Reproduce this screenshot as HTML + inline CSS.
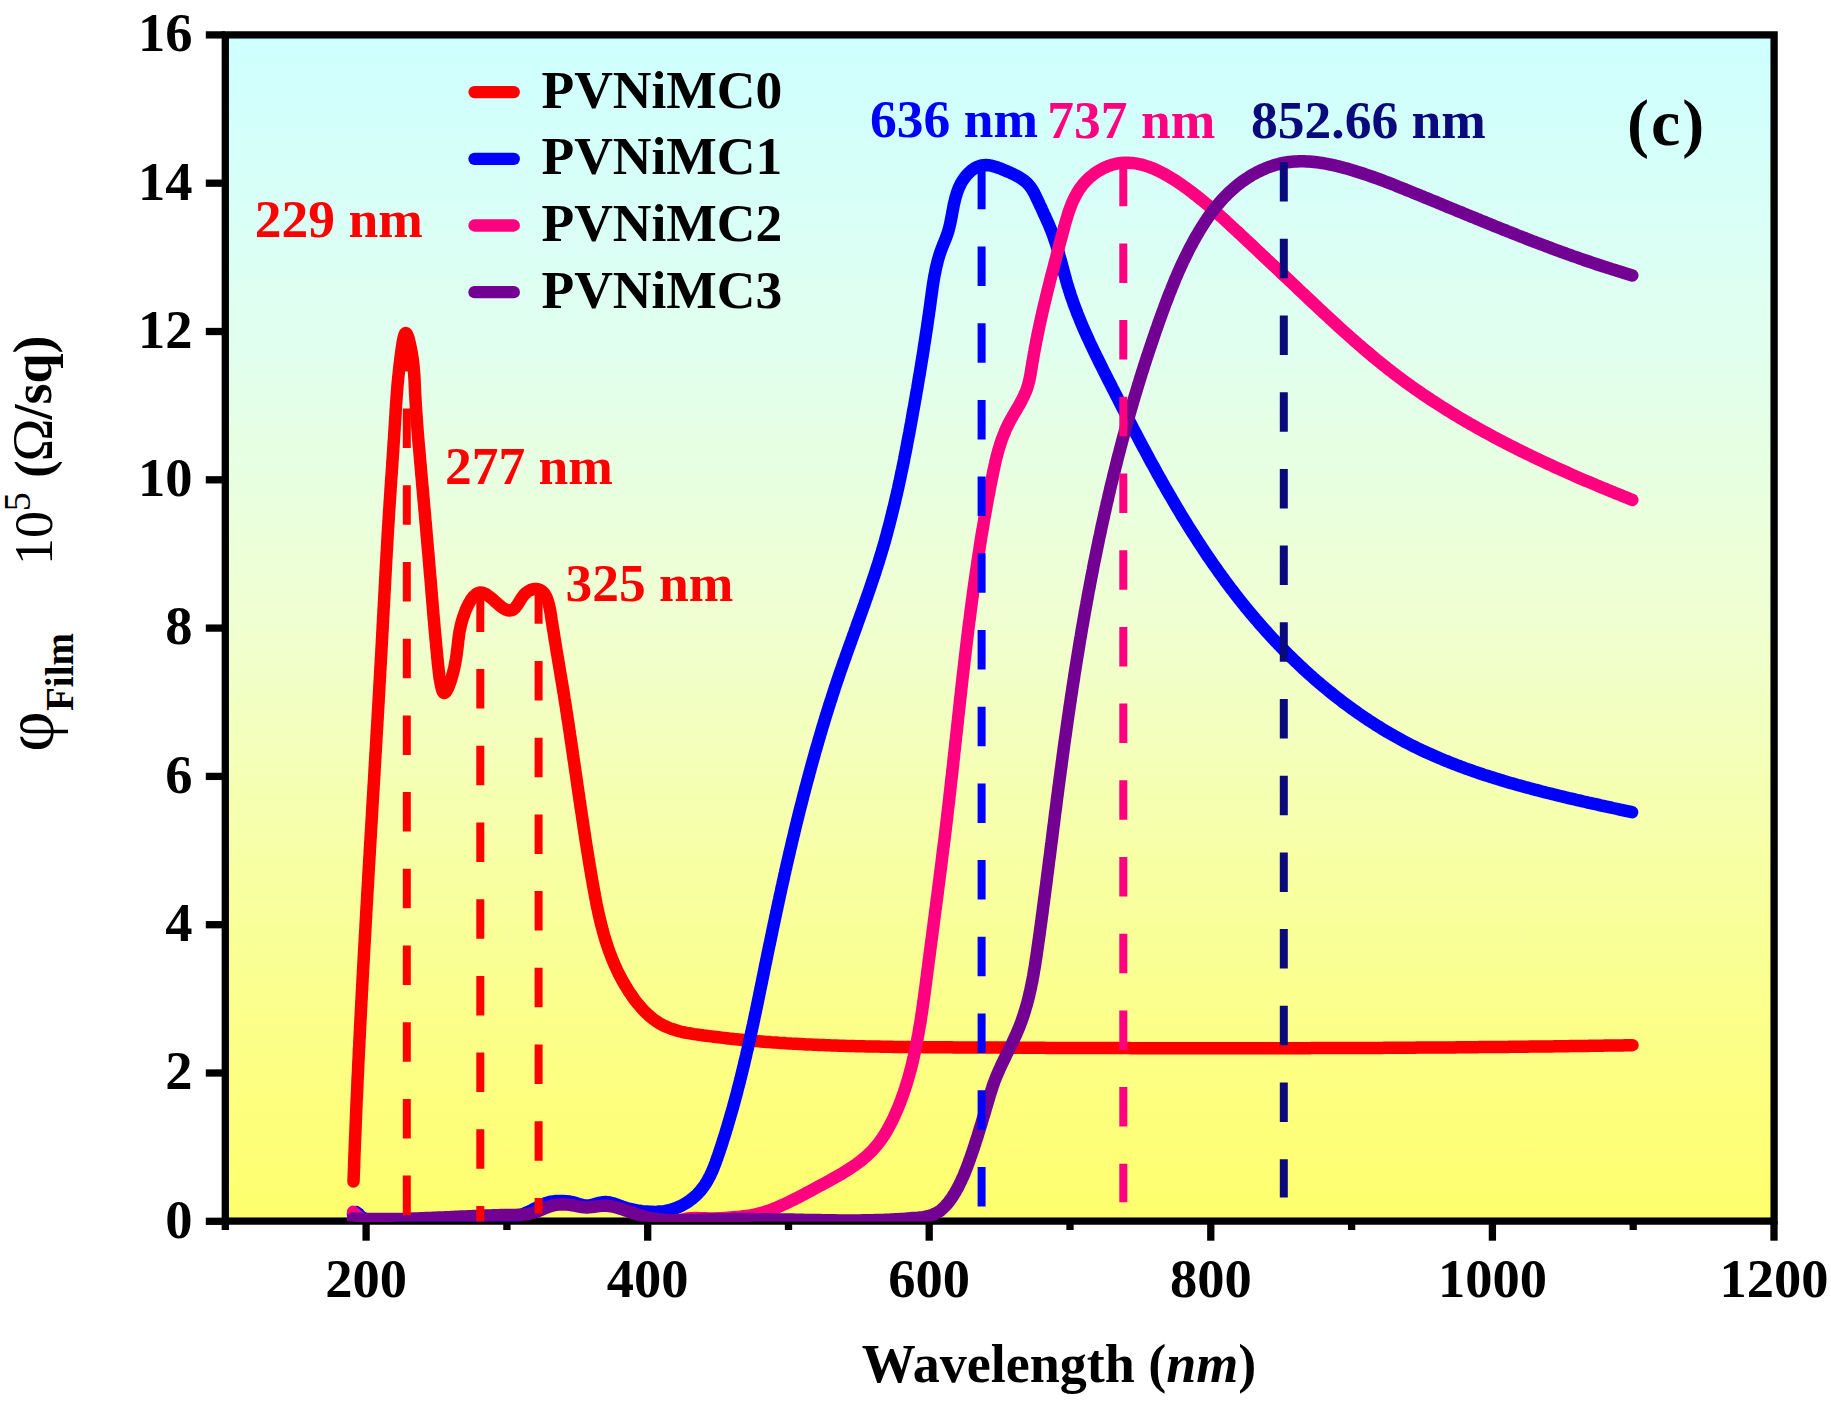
<!DOCTYPE html><html><head><meta charset="utf-8"><title>PVNiMC plot</title>
<style>html,body{margin:0;padding:0;background:#fff;}svg{display:block;}text{font-family:'Liberation Serif','Times New Roman',serif;font-weight:bold;}</style></head><body>
<svg width="1831" height="1401" viewBox="0 0 1831 1401">
<defs><linearGradient id="bg" x1="0" y1="0" x2="0" y2="1"><stop offset="0" stop-color="rgb(206,255,255)"/><stop offset="0.25" stop-color="rgb(224,255,240)"/><stop offset="0.5" stop-color="rgb(240,255,208)"/><stop offset="0.75" stop-color="rgb(249,255,153)"/><stop offset="1" stop-color="rgb(255,255,108)"/></linearGradient><clipPath id="pc"><rect x="225.3" y="34.9" width="1548.8" height="1186.6"/></clipPath></defs>
<rect x="0" y="0" width="1831" height="1401" fill="#fff"/>
<rect x="225" y="35" width="1549" height="1186" fill="url(#bg)"/>
<rect x="225.3" y="34.9" width="1548.8" height="1186.2" fill="none" stroke="#000" stroke-width="7.3"/><line x1="205.8" y1="1221.3" x2="225" y2="1221.3" stroke="#000" stroke-width="7.3"/><line x1="205.8" y1="1073.0" x2="225" y2="1073.0" stroke="#000" stroke-width="7.3"/><line x1="205.8" y1="924.7" x2="225" y2="924.7" stroke="#000" stroke-width="7.3"/><line x1="205.8" y1="776.4" x2="225" y2="776.4" stroke="#000" stroke-width="7.3"/><line x1="205.8" y1="628.1" x2="225" y2="628.1" stroke="#000" stroke-width="7.3"/><line x1="205.8" y1="479.8" x2="225" y2="479.8" stroke="#000" stroke-width="7.3"/><line x1="205.8" y1="331.5" x2="225" y2="331.5" stroke="#000" stroke-width="7.3"/><line x1="205.8" y1="183.2" x2="225" y2="183.2" stroke="#000" stroke-width="7.3"/><line x1="205.8" y1="34.9" x2="225" y2="34.9" stroke="#000" stroke-width="7.3"/><line x1="225.3" y1="1221" x2="225.3" y2="1230.0" stroke="#000" stroke-width="7.3"/><line x1="366.1" y1="1221" x2="366.1" y2="1240.7" stroke="#000" stroke-width="7.3"/><line x1="506.9" y1="1221" x2="506.9" y2="1230.0" stroke="#000" stroke-width="7.3"/><line x1="647.7" y1="1221" x2="647.7" y2="1240.7" stroke="#000" stroke-width="7.3"/><line x1="788.5" y1="1221" x2="788.5" y2="1230.0" stroke="#000" stroke-width="7.3"/><line x1="929.2" y1="1221" x2="929.2" y2="1240.7" stroke="#000" stroke-width="7.3"/><line x1="1070.0" y1="1221" x2="1070.0" y2="1230.0" stroke="#000" stroke-width="7.3"/><line x1="1210.8" y1="1221" x2="1210.8" y2="1240.7" stroke="#000" stroke-width="7.3"/><line x1="1351.6" y1="1221" x2="1351.6" y2="1230.0" stroke="#000" stroke-width="7.3"/><line x1="1492.4" y1="1221" x2="1492.4" y2="1240.7" stroke="#000" stroke-width="7.3"/><line x1="1633.2" y1="1221" x2="1633.2" y2="1230.0" stroke="#000" stroke-width="7.3"/><line x1="1774.0" y1="1221" x2="1774.0" y2="1240.7" stroke="#000" stroke-width="7.3"/>
<g clip-path="url(#pc)">
<path d="M353.5,1181.5 L353.6,1179.0 L353.7,1176.5 L353.8,1174.0 L353.9,1171.5 L354.0,1169.0 L354.1,1166.5 L354.1,1164.0 L354.2,1161.5 L354.3,1159.0 L354.4,1156.5 L354.5,1154.0 L354.6,1151.5 L354.7,1149.0 L354.8,1146.5 L354.9,1144.0 L355.0,1141.5 L355.1,1139.0 L355.2,1136.5 L355.3,1134.0 L355.4,1131.5 L355.5,1129.0 L355.6,1126.5 L355.7,1124.0 L355.8,1121.5 L355.9,1119.0 L356.0,1116.5 L356.1,1114.0 L356.2,1111.5 L356.3,1109.0 L356.4,1106.5 L356.5,1104.0 L356.6,1101.5 L356.7,1099.0 L356.9,1096.5 L357.0,1094.0 L357.1,1091.5 L357.2,1089.0 L357.3,1086.5 L357.4,1084.0 L357.5,1081.5 L357.6,1079.0 L357.7,1076.5 L357.9,1074.0 L358.0,1071.5 L358.1,1069.0 L358.2,1066.5 L358.3,1064.0 L358.4,1061.5 L358.6,1059.0 L358.7,1056.5 L358.8,1054.0 L358.9,1051.5 L359.0,1049.0 L359.2,1046.5 L359.3,1044.0 L359.4,1041.5 L359.5,1039.0 L359.7,1036.5 L359.8,1034.0 L359.9,1031.5 L360.0,1029.0 L360.1,1026.5 L360.3,1024.0 L360.4,1021.5 L360.5,1019.0 L360.7,1016.5 L360.8,1014.0 L360.9,1011.5 L361.0,1009.0 L361.2,1006.5 L361.3,1004.0 L361.4,1001.5 L361.6,999.0 L361.7,996.5 L361.8,994.0 L361.9,991.5 L362.1,989.0 L362.2,986.5 L362.3,984.0 L362.5,981.5 L362.6,979.0 L362.7,976.5 L362.9,973.9 L363.0,971.4 L363.1,968.9 L363.3,966.4 L363.4,963.9 L363.6,961.4 L363.7,958.9 L363.8,956.4 L364.0,953.9 L364.1,951.4 L364.2,948.9 L364.4,946.4 L364.5,943.9 L364.7,941.4 L364.8,938.9 L364.9,936.4 L365.1,933.9 L365.2,931.4 L365.4,928.9 L365.5,926.4 L365.6,923.9 L365.8,921.4 L365.9,918.9 L366.1,916.4 L366.2,913.9 L366.3,911.4 L366.5,908.9 L366.6,906.4 L366.8,903.9 L366.9,901.4 L367.1,898.9 L367.2,896.4 L367.3,893.9 L367.5,891.4 L367.6,888.9 L367.8,886.4 L367.9,883.9 L368.1,881.4 L368.2,878.8 L368.3,876.3 L368.5,873.8 L368.6,871.3 L368.8,868.8 L368.9,866.3 L369.1,863.8 L369.2,861.3 L369.4,858.8 L369.5,856.3 L369.7,853.8 L369.8,851.3 L369.9,848.8 L370.1,846.3 L370.2,843.8 L370.4,841.3 L370.5,838.8 L370.7,836.3 L370.8,833.8 L371.0,831.3 L371.1,828.8 L371.3,826.3 L371.4,823.8 L371.6,821.3 L371.7,818.8 L371.9,816.3 L372.0,813.8 L372.1,811.3 L372.3,808.8 L372.4,806.3 L372.6,803.8 L372.7,801.3 L372.9,798.8 L373.0,796.3 L373.2,793.8 L373.3,791.3 L373.5,788.8 L373.6,786.3 L373.8,783.8 L373.9,781.3 L374.1,778.8 L374.2,776.3 L374.4,773.8 L374.5,771.3 L374.6,768.8 L374.8,766.3 L374.9,763.8 L375.1,761.3 L375.2,758.8 L375.4,756.3 L375.5,753.8 L375.7,751.3 L375.8,748.8 L376.0,746.3 L376.1,743.8 L376.3,741.3 L376.4,738.8 L376.5,736.3 L376.7,733.8 L376.8,731.3 L377.0,728.9 L377.1,726.4 L377.3,723.9 L377.4,721.4 L377.6,718.9 L377.7,716.4 L377.8,713.9 L378.0,711.4 L378.1,708.9 L378.3,706.4 L378.4,703.9 L378.6,701.4 L378.7,698.9 L378.8,696.4 L379.0,693.9 L379.1,691.4 L379.3,688.9 L379.4,686.4 L379.5,683.9 L379.7,681.4 L379.8,678.9 L380.0,676.4 L380.1,674.0 L380.2,671.5 L380.4,669.0 L380.5,666.5 L380.7,664.0 L380.8,661.5 L380.9,659.0 L381.1,656.5 L381.2,654.0 L381.4,651.5 L381.5,649.0 L381.6,646.5 L381.8,644.0 L381.9,641.5 L382.0,639.1 L382.2,636.6 L382.3,634.1 L382.4,631.6 L382.6,629.1 L382.7,626.6 L382.8,624.1 L383.0,621.6 L383.1,619.1 L383.2,616.6 L383.4,614.1 L383.5,611.7 L383.6,609.2 L383.8,606.7 L383.9,604.2 L384.0,601.7 L384.2,599.2 L384.3,596.7 L384.4,594.2 L384.6,591.7 L384.7,589.2 L384.8,586.7 L385.0,584.2 L385.1,581.7 L385.2,579.2 L385.4,576.8 L385.5,574.3 L385.6,571.8 L385.8,569.3 L385.9,566.8 L386.0,564.2 L386.2,561.7 L386.3,559.2 L386.5,556.7 L386.6,554.2 L386.7,551.7 L386.9,549.2 L387.0,546.7 L387.2,544.2 L387.3,541.7 L387.5,539.1 L387.6,536.6 L387.7,534.1 L387.9,531.6 L388.0,529.1 L388.2,526.5 L388.4,524.0 L388.5,521.5 L388.7,518.9 L388.8,516.4 L389.0,513.9 L389.1,511.3 L389.3,508.8 L389.5,506.2 L389.6,503.7 L389.8,501.1 L390.0,498.6 L390.1,496.1 L390.3,493.5 L390.5,491.0 L390.6,488.4 L390.8,485.9 L391.0,483.3 L391.1,480.8 L391.3,478.3 L391.5,475.7 L391.7,473.2 L391.8,470.7 L392.0,468.2 L392.2,465.7 L392.3,463.1 L392.5,460.6 L392.7,458.1 L392.8,455.7 L393.0,453.2 L393.2,450.7 L393.3,448.2 L393.5,445.7 L393.6,443.3 L393.8,440.8 L394.0,438.4 L394.1,436.0 L394.3,433.5 L394.4,431.1 L394.6,428.7 L394.7,426.3 L394.9,424.0 L395.0,421.6 L395.2,419.2 L395.3,416.9 L395.5,414.5 L395.6,412.2 L395.7,409.8 L395.9,407.5 L396.0,405.1 L396.2,402.7 L396.4,400.3 L396.5,398.0 L396.7,395.5 L396.9,393.1 L397.1,390.6 L397.3,388.2 L397.5,385.6 L397.7,383.1 L398.0,380.5 L398.2,377.9 L398.5,375.2 L398.8,372.5 L399.1,369.8 L399.4,367.0 L399.7,364.2 L400.1,361.3 L400.4,358.3 L400.8,355.3 L401.2,352.2 L401.7,349.1 L402.1,345.9 L402.6,342.8 L403.1,339.9 L403.7,337.4 L404.3,335.3 L404.9,333.8 L405.5,333.0 L406.2,333.1 L406.9,334.1 L407.7,335.8 L408.5,338.1 L409.2,340.8 L409.9,343.8 L410.6,347.0 L411.2,350.1 L411.8,353.1 L412.2,356.1 L412.7,358.9 L413.0,361.6 L413.3,364.2 L413.6,366.7 L413.8,369.2 L414.0,371.7 L414.2,374.0 L414.3,376.4 L414.5,378.7 L414.6,381.0 L414.7,383.4 L414.8,385.7 L414.9,388.0 L415.0,390.4 L415.1,392.8 L415.2,395.3 L415.4,397.7 L415.5,400.2 L415.7,402.7 L415.8,405.2 L416.0,407.7 L416.1,410.3 L416.3,412.8 L416.5,415.3 L416.7,417.9 L416.9,420.4 L417.0,423.0 L417.2,425.5 L417.4,428.0 L417.6,430.5 L417.8,433.0 L418.0,435.5 L418.2,438.0 L418.4,440.5 L418.6,442.9 L418.8,445.4 L419.1,447.9 L419.3,450.4 L419.5,452.8 L419.7,455.3 L419.9,457.8 L420.1,460.2 L420.3,462.7 L420.6,465.2 L420.8,467.7 L421.0,470.2 L421.2,472.7 L421.4,475.2 L421.7,477.7 L421.9,480.2 L422.1,482.7 L422.3,485.2 L422.5,487.7 L422.8,490.2 L423.0,492.7 L423.2,495.2 L423.4,497.7 L423.6,500.2 L423.9,502.7 L424.1,505.2 L424.3,507.7 L424.5,510.2 L424.8,512.8 L425.0,515.3 L425.2,517.8 L425.4,520.3 L425.6,522.8 L425.9,525.3 L426.1,527.8 L426.3,530.3 L426.5,532.8 L426.7,535.4 L427.0,537.9 L427.2,540.4 L427.4,542.9 L427.6,545.4 L427.8,547.9 L428.0,550.4 L428.3,552.9 L428.5,555.4 L428.7,557.9 L428.9,560.3 L429.1,562.8 L429.3,565.3 L429.5,567.8 L429.7,570.3 L429.9,572.7 L430.1,575.2 L430.4,577.7 L430.6,580.1 L430.8,582.6 L431.0,585.1 L431.2,587.5 L431.4,590.0 L431.6,592.5 L431.8,594.9 L432.0,597.4 L432.2,599.8 L432.4,602.3 L432.6,604.8 L432.8,607.2 L433.0,609.7 L433.2,612.2 L433.4,614.6 L433.6,617.1 L433.8,619.6 L434.1,622.1 L434.3,624.5 L434.5,627.0 L434.7,629.5 L434.9,632.0 L435.2,634.5 L435.4,637.1 L435.6,639.6 L435.9,642.1 L436.1,644.7 L436.3,647.2 L436.6,649.8 L436.8,652.3 L437.1,654.9 L437.3,657.5 L437.6,660.1 L437.8,662.7 L438.1,665.3 L438.4,667.9 L438.7,670.5 L439.0,673.2 L439.3,675.8 L439.7,678.5 L440.2,681.2 L440.7,684.0 L441.3,686.7 L441.9,689.3 L442.7,691.4 L443.5,692.7 L444.5,693.0 L445.6,692.3 L446.7,690.7 L447.8,688.6 L448.8,686.1 L449.9,683.3 L450.9,680.4 L451.8,677.3 L452.7,674.2 L453.5,671.1 L454.2,668.1 L454.8,665.2 L455.3,662.5 L455.8,659.8 L456.2,657.3 L456.6,654.8 L456.9,652.4 L457.2,650.0 L457.5,647.7 L457.7,645.5 L458.0,643.3 L458.2,641.1 L458.5,638.9 L458.8,636.7 L459.1,634.5 L459.4,632.3 L459.8,630.1 L460.3,627.8 L460.8,625.5 L461.4,623.1 L462.1,620.6 L462.9,618.0 L463.8,615.4 L464.8,612.7 L465.8,609.9 L467.0,607.2 L468.3,604.5 L469.7,602.0 L471.1,599.6 L472.7,597.5 L474.3,595.7 L475.9,594.2 L477.7,593.2 L479.5,592.6 L481.3,592.5 L483.2,592.9 L485.1,593.7 L487.1,594.9 L489.1,596.4 L491.2,598.0 L493.3,599.8 L495.3,601.7 L497.5,603.6 L499.6,605.4 L501.7,607.1 L503.8,608.5 L505.9,609.6 L508.0,610.3 L510.0,610.5 L511.9,610.1 L513.8,609.1 L515.6,607.3 L517.3,605.0 L519.0,602.3 L520.7,599.5 L522.5,596.8 L524.4,594.4 L526.5,592.5 L528.6,591.0 L530.8,589.9 L533.0,589.3 L535.1,589.0 L537.2,589.1 L539.1,589.6 L540.9,590.4 L542.5,591.6 L543.9,593.0 L545.1,594.8 L546.2,596.7 L547.1,598.9 L547.9,601.3 L548.7,603.8 L549.3,606.4 L549.9,609.2 L550.4,612.0 L550.9,614.8 L551.3,617.7 L551.7,620.5 L552.2,623.3 L552.6,626.1 L553.0,628.8 L553.5,631.5 L553.9,634.2 L554.3,636.8 L554.7,639.5 L555.2,642.1 L555.6,644.6 L556.0,647.2 L556.4,649.7 L556.8,652.2 L557.3,654.7 L557.7,657.2 L558.1,659.7 L558.5,662.1 L558.9,664.6 L559.3,667.0 L559.7,669.4 L560.1,671.8 L560.5,674.2 L560.9,676.6 L561.3,679.0 L561.7,681.4 L562.1,683.8 L562.5,686.1 L562.9,688.5 L563.3,690.9 L563.7,693.3 L564.1,695.7 L564.4,698.1 L564.8,700.5 L565.2,702.9 L565.6,705.3 L566.0,707.8 L566.3,710.2 L566.7,712.6 L567.1,715.0 L567.4,717.5 L567.8,719.9 L568.2,722.3 L568.6,724.8 L568.9,727.2 L569.3,729.7 L569.7,732.1 L570.0,734.6 L570.4,737.0 L570.7,739.5 L571.1,741.9 L571.5,744.4 L571.8,746.9 L572.2,749.3 L572.6,751.8 L572.9,754.3 L573.3,756.7 L573.6,759.2 L574.0,761.7 L574.4,764.2 L574.7,766.7 L575.1,769.1 L575.4,771.6 L575.8,774.1 L576.2,776.6 L576.5,779.1 L576.9,781.6 L577.2,784.1 L577.6,786.6 L578.0,789.1 L578.3,791.6 L578.7,794.1 L579.1,796.6 L579.4,799.1 L579.8,801.6 L580.2,804.1 L580.5,806.6 L580.9,809.1 L581.3,811.6 L581.7,814.1 L582.0,816.6 L582.4,819.1 L582.8,821.6 L583.2,824.1 L583.5,826.6 L583.9,829.1 L584.3,831.6 L584.7,834.1 L585.1,836.5 L585.4,839.0 L585.8,841.5 L586.2,844.0 L586.6,846.5 L587.0,849.0 L587.4,851.5 L587.8,854.0 L588.2,856.5 L588.6,859.0 L589.0,861.5 L589.4,864.0 L589.8,866.4 L590.3,868.9 L590.7,871.4 L591.1,873.9 L591.5,876.4 L591.9,878.8 L592.4,881.3 L592.8,883.8 L593.2,886.2 L593.7,888.7 L594.1,891.2 L594.6,893.6 L595.0,896.1 L595.5,898.5 L596.0,901.0 L596.4,903.4 L596.9,905.9 L597.4,908.3 L598.0,910.7 L598.5,913.2 L599.0,915.6 L599.6,918.0 L600.2,920.4 L600.7,922.8 L601.3,925.2 L602.0,927.6 L602.6,930.0 L603.3,932.4 L603.9,934.8 L604.6,937.1 L605.3,939.5 L606.1,941.9 L606.8,944.2 L607.6,946.6 L608.4,948.9 L609.2,951.2 L610.1,953.6 L611.0,955.9 L611.9,958.2 L612.8,960.5 L613.8,962.8 L614.7,965.1 L615.8,967.3 L616.8,969.6 L617.9,971.9 L619.0,974.1 L620.2,976.4 L621.3,978.6 L622.5,980.8 L623.8,983.0 L625.1,985.2 L626.4,987.4 L627.8,989.6 L629.1,991.8 L630.6,993.9 L632.1,996.0 L633.6,998.2 L635.1,1000.3 L636.7,1002.3 L638.3,1004.3 L640.0,1006.3 L641.7,1008.3 L643.5,1010.2 L645.2,1012.0 L647.1,1013.8 L648.9,1015.5 L650.9,1017.1 L652.8,1018.7 L654.8,1020.2 L656.8,1021.6 L658.9,1022.9 L661.0,1024.2 L663.2,1025.3 L665.4,1026.4 L667.6,1027.3 L669.9,1028.2 L672.2,1029.1 L674.5,1029.8 L676.8,1030.5 L679.2,1031.2 L681.6,1031.8 L684.0,1032.3 L686.5,1032.8 L688.9,1033.2 L691.4,1033.7 L693.9,1034.1 L696.4,1034.4 L698.9,1034.8 L701.3,1035.1 L703.8,1035.5 L706.3,1035.8 L708.8,1036.1 L711.3,1036.4 L713.8,1036.7 L716.3,1037.0 L718.8,1037.3 L721.3,1037.6 L723.8,1037.9 L726.3,1038.2 L728.8,1038.5 L731.3,1038.7 L733.8,1039.0 L736.3,1039.2 L738.8,1039.5 L741.3,1039.7 L743.8,1040.0 L746.3,1040.2 L748.8,1040.4 L751.3,1040.7 L753.8,1040.9 L756.3,1041.1 L758.8,1041.3 L761.3,1041.5 L763.8,1041.7 L766.3,1041.9 L768.8,1042.1 L771.3,1042.3 L773.8,1042.4 L776.3,1042.6 L778.8,1042.8 L781.3,1042.9 L783.8,1043.1 L786.3,1043.3 L788.8,1043.4 L791.3,1043.6 L793.8,1043.7 L796.3,1043.8 L798.8,1044.0 L801.3,1044.1 L803.8,1044.2 L806.3,1044.4 L808.8,1044.5 L811.3,1044.6 L813.8,1044.7 L816.3,1044.8 L818.8,1044.9 L821.3,1045.0 L823.8,1045.1 L826.3,1045.2 L828.8,1045.3 L831.3,1045.4 L833.8,1045.5 L836.3,1045.6 L838.8,1045.7 L841.3,1045.8 L843.8,1045.8 L846.3,1045.9 L848.8,1046.0 L851.3,1046.0 L853.8,1046.1 L856.3,1046.2 L858.8,1046.2 L861.3,1046.3 L863.8,1046.3 L866.3,1046.4 L868.8,1046.4 L871.3,1046.5 L873.8,1046.5 L876.3,1046.6 L878.8,1046.6 L881.3,1046.7 L883.8,1046.7 L886.3,1046.7 L888.8,1046.8 L891.3,1046.8 L893.9,1046.9 L896.4,1046.9 L898.9,1046.9 L901.4,1046.9 L903.9,1047.0 L906.4,1047.0 L908.9,1047.0 L911.4,1047.0 L913.9,1047.1 L916.4,1047.1 L918.9,1047.1 L921.4,1047.1 L923.9,1047.2 L926.4,1047.2 L928.9,1047.2 L931.4,1047.2 L933.9,1047.2 L936.4,1047.2 L938.9,1047.3 L941.4,1047.3 L943.9,1047.3 L946.4,1047.3 L948.9,1047.3 L951.4,1047.3 L953.9,1047.4 L956.4,1047.4 L958.9,1047.4 L961.4,1047.4 L964.0,1047.4 L966.5,1047.4 L969.0,1047.4 L971.5,1047.5 L974.0,1047.5 L976.5,1047.5 L979.0,1047.5 L981.5,1047.5 L984.0,1047.5 L986.5,1047.5 L989.0,1047.6 L991.5,1047.6 L994.0,1047.6 L996.5,1047.6 L999.0,1047.6 L1001.5,1047.6 L1004.0,1047.6 L1006.5,1047.7 L1009.0,1047.7 L1011.5,1047.7 L1014.0,1047.7 L1016.5,1047.7 L1019.0,1047.7 L1021.5,1047.7 L1024.0,1047.7 L1026.5,1047.8 L1029.1,1047.8 L1031.6,1047.8 L1034.1,1047.8 L1036.6,1047.8 L1039.1,1047.8 L1041.6,1047.8 L1044.1,1047.8 L1046.6,1047.9 L1049.1,1047.9 L1051.6,1047.9 L1054.1,1047.9 L1056.6,1047.9 L1059.1,1047.9 L1061.6,1047.9 L1064.1,1047.9 L1066.6,1047.9 L1069.1,1047.9 L1071.6,1048.0 L1074.1,1048.0 L1076.6,1048.0 L1079.1,1048.0 L1081.6,1048.0 L1084.1,1048.0 L1086.6,1048.0 L1089.1,1048.0 L1091.6,1048.0 L1094.2,1048.0 L1096.7,1048.1 L1099.2,1048.1 L1101.7,1048.1 L1104.2,1048.1 L1106.7,1048.1 L1109.2,1048.1 L1111.7,1048.1 L1114.2,1048.1 L1116.7,1048.1 L1119.2,1048.1 L1121.7,1048.1 L1124.2,1048.1 L1126.7,1048.1 L1129.2,1048.1 L1131.7,1048.2 L1134.2,1048.2 L1136.7,1048.2 L1139.2,1048.2 L1141.7,1048.2 L1144.2,1048.2 L1146.7,1048.2 L1149.2,1048.2 L1151.7,1048.2 L1154.2,1048.2 L1156.8,1048.2 L1159.3,1048.2 L1161.8,1048.2 L1164.3,1048.2 L1166.8,1048.2 L1169.3,1048.2 L1171.8,1048.2 L1174.3,1048.2 L1176.8,1048.2 L1179.3,1048.2 L1181.8,1048.2 L1184.3,1048.3 L1186.8,1048.3 L1189.3,1048.3 L1191.8,1048.3 L1194.3,1048.3 L1196.8,1048.3 L1199.3,1048.3 L1201.8,1048.3 L1204.3,1048.3 L1206.8,1048.3 L1209.3,1048.3 L1211.8,1048.3 L1214.3,1048.3 L1216.8,1048.3 L1219.4,1048.3 L1221.9,1048.3 L1224.4,1048.3 L1226.9,1048.3 L1229.4,1048.3 L1231.9,1048.3 L1234.4,1048.3 L1236.9,1048.3 L1239.4,1048.3 L1241.9,1048.3 L1244.4,1048.3 L1246.9,1048.3 L1249.4,1048.3 L1251.9,1048.3 L1254.4,1048.3 L1256.9,1048.3 L1259.4,1048.3 L1261.9,1048.3 L1264.4,1048.2 L1266.9,1048.2 L1269.4,1048.2 L1271.9,1048.2 L1274.4,1048.2 L1276.9,1048.2 L1279.4,1048.2 L1282.0,1048.2 L1284.5,1048.2 L1287.0,1048.2 L1289.5,1048.2 L1292.0,1048.2 L1294.5,1048.2 L1297.0,1048.2 L1299.5,1048.2 L1302.0,1048.2 L1304.5,1048.2 L1307.0,1048.2 L1309.5,1048.2 L1312.0,1048.1 L1314.5,1048.1 L1317.0,1048.1 L1319.5,1048.1 L1322.0,1048.1 L1324.5,1048.1 L1327.0,1048.1 L1329.5,1048.1 L1332.0,1048.1 L1334.5,1048.1 L1337.0,1048.1 L1339.5,1048.1 L1342.1,1048.0 L1344.6,1048.0 L1347.1,1048.0 L1349.6,1048.0 L1352.1,1048.0 L1354.6,1048.0 L1357.1,1048.0 L1359.6,1048.0 L1362.1,1048.0 L1364.6,1048.0 L1367.1,1047.9 L1369.6,1047.9 L1372.1,1047.9 L1374.6,1047.9 L1377.1,1047.9 L1379.6,1047.9 L1382.1,1047.9 L1384.6,1047.8 L1387.1,1047.8 L1389.6,1047.8 L1392.1,1047.8 L1394.6,1047.8 L1397.1,1047.8 L1399.6,1047.8 L1402.1,1047.7 L1404.7,1047.7 L1407.2,1047.7 L1409.7,1047.7 L1412.2,1047.7 L1414.7,1047.7 L1417.2,1047.6 L1419.7,1047.6 L1422.2,1047.6 L1424.7,1047.6 L1427.2,1047.6 L1429.7,1047.6 L1432.2,1047.5 L1434.7,1047.5 L1437.2,1047.5 L1439.7,1047.5 L1442.2,1047.5 L1444.7,1047.4 L1447.2,1047.4 L1449.7,1047.4 L1452.2,1047.4 L1454.7,1047.4 L1457.2,1047.3 L1459.7,1047.3 L1462.2,1047.3 L1464.7,1047.3 L1467.2,1047.3 L1469.8,1047.2 L1472.3,1047.2 L1474.8,1047.2 L1477.3,1047.2 L1479.8,1047.1 L1482.3,1047.1 L1484.8,1047.1 L1487.3,1047.1 L1489.8,1047.1 L1492.3,1047.0 L1494.8,1047.0 L1497.3,1047.0 L1499.8,1047.0 L1502.3,1046.9 L1504.8,1046.9 L1507.3,1046.9 L1509.8,1046.8 L1512.3,1046.8 L1514.8,1046.8 L1517.3,1046.8 L1519.8,1046.7 L1522.3,1046.7 L1524.8,1046.7 L1527.3,1046.7 L1529.8,1046.6 L1532.4,1046.6 L1534.9,1046.6 L1537.4,1046.5 L1539.9,1046.5 L1542.4,1046.5 L1544.9,1046.4 L1547.4,1046.4 L1549.9,1046.4 L1552.4,1046.4 L1554.9,1046.3 L1557.4,1046.3 L1559.9,1046.3 L1562.4,1046.2 L1564.9,1046.2 L1567.4,1046.2 L1569.9,1046.1 L1572.4,1046.1 L1574.9,1046.1 L1577.4,1046.0 L1579.9,1046.0 L1582.4,1046.0 L1584.9,1045.9 L1587.4,1045.9 L1589.9,1045.8 L1592.4,1045.8 L1594.9,1045.8 L1597.4,1045.7 L1600.0,1045.7 L1602.5,1045.7 L1605.0,1045.6 L1607.5,1045.6 L1610.0,1045.6 L1612.5,1045.5 L1615.0,1045.5 L1617.5,1045.4 L1620.0,1045.4 L1622.5,1045.4 L1625.0,1045.3 L1627.5,1045.3 L1630.0,1045.2 L1632.5,1045.2" fill="none" stroke="#ff0000" stroke-width="12.5" stroke-linecap="round" stroke-linejoin="round"/>
<path d="M353.0,1214.0 L356.3,1212.2 L358.4,1213.6 L360.2,1215.9 L362.3,1217.6 L364.6,1218.6 L367.0,1219.1 L369.5,1219.5 L371.9,1219.8 L374.4,1220.1 L376.9,1220.4 L379.4,1220.6 L381.9,1220.7 L384.3,1220.9 L386.8,1221.0 L389.3,1221.1 L391.8,1221.1 L394.3,1221.2 L396.7,1221.2 L399.2,1221.1 L401.7,1221.1 L404.2,1221.0 L406.7,1221.0 L409.2,1220.9 L411.7,1220.8 L414.2,1220.7 L416.7,1220.6 L419.2,1220.5 L421.7,1220.3 L424.2,1220.2 L426.7,1220.1 L429.2,1220.0 L431.7,1219.9 L434.3,1219.8 L436.8,1219.7 L439.3,1219.6 L441.8,1219.5 L444.4,1219.5 L446.9,1219.5 L449.4,1219.4 L452.0,1219.5 L454.5,1219.5 L457.1,1219.5 L459.6,1219.6 L462.1,1219.7 L464.7,1219.7 L467.2,1219.8 L469.8,1219.9 L472.3,1220.0 L474.9,1220.0 L477.4,1220.1 L479.9,1220.1 L482.5,1220.1 L485.0,1220.1 L487.5,1220.1 L490.0,1220.0 L492.5,1219.9 L495.0,1219.7 L497.5,1219.6 L499.9,1219.3 L502.4,1219.1 L504.8,1218.7 L507.3,1218.3 L509.7,1217.9 L512.1,1217.4 L514.5,1216.8 L516.8,1216.2 L519.2,1215.5 L521.5,1214.7 L523.8,1213.8 L526.1,1212.8 L528.4,1211.8 L530.7,1210.7 L532.9,1209.5 L535.2,1208.4 L537.4,1207.2 L539.6,1206.0 L541.8,1204.8 L544.1,1203.8 L546.4,1202.9 L548.8,1202.2 L551.2,1201.7 L553.7,1201.3 L556.2,1201.1 L558.8,1201.0 L561.3,1201.0 L563.8,1201.1 L566.3,1201.2 L568.8,1201.5 L571.2,1201.9 L573.7,1202.4 L576.2,1203.1 L578.6,1203.9 L581.0,1204.6 L583.5,1205.1 L585.9,1205.5 L588.3,1205.4 L590.8,1205.1 L593.2,1204.5 L595.7,1203.8 L598.2,1203.2 L600.6,1202.6 L603.1,1202.2 L605.6,1202.1 L608.1,1202.2 L610.5,1202.7 L612.9,1203.3 L615.3,1204.0 L617.7,1204.9 L620.1,1205.8 L622.5,1206.7 L624.8,1207.5 L627.2,1208.2 L629.6,1208.9 L632.1,1209.4 L634.5,1209.9 L636.9,1210.4 L639.4,1210.7 L641.9,1211.1 L644.4,1211.4 L646.9,1211.6 L649.4,1211.8 L651.9,1211.8 L654.4,1211.9 L656.9,1211.8 L659.4,1211.6 L661.9,1211.4 L664.4,1211.1 L666.9,1210.6 L669.3,1210.1 L671.7,1209.5 L674.1,1208.7 L676.5,1207.8 L678.8,1206.9 L681.0,1205.8 L683.3,1204.7 L685.5,1203.4 L687.6,1202.1 L689.7,1200.6 L691.7,1199.1 L693.6,1197.5 L695.5,1195.9 L697.3,1194.1 L699.0,1192.3 L700.6,1190.5 L702.2,1188.5 L703.7,1186.5 L705.1,1184.5 L706.4,1182.4 L707.6,1180.3 L708.8,1178.1 L710.0,1175.9 L711.0,1173.7 L712.1,1171.4 L713.1,1169.1 L714.0,1166.8 L714.9,1164.5 L715.8,1162.1 L716.6,1159.7 L717.5,1157.3 L718.3,1154.9 L719.1,1152.6 L719.9,1150.2 L720.7,1147.8 L721.5,1145.4 L722.3,1143.0 L723.0,1140.6 L723.8,1138.2 L724.6,1135.8 L725.3,1133.4 L726.0,1131.0 L726.8,1128.6 L727.5,1126.2 L728.2,1123.7 L728.9,1121.3 L729.6,1118.9 L730.3,1116.5 L731.0,1114.1 L731.7,1111.7 L732.4,1109.3 L733.1,1106.9 L733.7,1104.4 L734.4,1102.0 L735.1,1099.6 L735.7,1097.2 L736.4,1094.8 L737.0,1092.4 L737.6,1089.9 L738.2,1087.5 L738.9,1085.1 L739.5,1082.7 L740.1,1080.2 L740.7,1077.8 L741.3,1075.4 L741.9,1073.0 L742.5,1070.5 L743.1,1068.1 L743.7,1065.7 L744.3,1063.2 L744.8,1060.8 L745.4,1058.4 L746.0,1056.0 L746.5,1053.5 L747.1,1051.1 L747.7,1048.7 L748.2,1046.2 L748.8,1043.8 L749.3,1041.3 L749.9,1038.9 L750.4,1036.5 L750.9,1034.0 L751.5,1031.6 L752.0,1029.2 L752.5,1026.7 L753.1,1024.3 L753.6,1021.8 L754.1,1019.4 L754.6,1016.9 L755.1,1014.5 L755.7,1012.1 L756.2,1009.6 L756.7,1007.2 L757.2,1004.7 L757.7,1002.3 L758.2,999.8 L758.7,997.4 L759.2,995.0 L759.7,992.5 L760.2,990.1 L760.7,987.6 L761.2,985.2 L761.7,982.7 L762.2,980.3 L762.7,977.8 L763.2,975.4 L763.7,972.9 L764.2,970.5 L764.7,968.0 L765.2,965.6 L765.7,963.1 L766.2,960.7 L766.7,958.2 L767.2,955.8 L767.7,953.3 L768.2,950.9 L768.7,948.4 L769.2,946.0 L769.8,943.5 L770.3,941.1 L770.8,938.6 L771.3,936.2 L771.8,933.7 L772.3,931.3 L772.8,928.8 L773.3,926.4 L773.8,923.9 L774.4,921.5 L774.9,919.1 L775.4,916.6 L775.9,914.2 L776.4,911.7 L777.0,909.3 L777.5,906.8 L778.0,904.4 L778.5,901.9 L779.1,899.5 L779.6,897.0 L780.1,894.6 L780.7,892.1 L781.2,889.7 L781.7,887.2 L782.3,884.8 L782.8,882.3 L783.4,879.9 L783.9,877.4 L784.4,875.0 L785.0,872.6 L785.5,870.1 L786.1,867.7 L786.6,865.2 L787.2,862.8 L787.8,860.3 L788.3,857.9 L788.9,855.5 L789.5,853.0 L790.0,850.6 L790.6,848.1 L791.2,845.7 L791.7,843.3 L792.3,840.8 L792.9,838.4 L793.5,835.9 L794.1,833.5 L794.6,831.1 L795.2,828.6 L795.8,826.2 L796.4,823.8 L797.0,821.3 L797.6,818.9 L798.2,816.5 L798.8,814.0 L799.4,811.6 L800.0,809.2 L800.6,806.7 L801.3,804.3 L801.9,801.9 L802.5,799.5 L803.1,797.0 L803.7,794.6 L804.4,792.2 L805.0,789.8 L805.6,787.3 L806.3,784.9 L806.9,782.5 L807.6,780.1 L808.2,777.7 L808.9,775.2 L809.5,772.8 L810.2,770.4 L810.8,768.0 L811.5,765.6 L812.1,763.2 L812.8,760.7 L813.5,758.3 L814.2,755.9 L814.8,753.5 L815.5,751.1 L816.2,748.7 L816.9,746.3 L817.6,743.9 L818.3,741.5 L819.0,739.1 L819.7,736.7 L820.4,734.3 L821.1,731.9 L821.8,729.5 L822.5,727.1 L823.3,724.7 L824.0,722.3 L824.7,719.9 L825.4,717.5 L826.2,715.1 L826.9,712.7 L827.7,710.3 L828.4,708.0 L829.2,705.6 L829.9,703.2 L830.7,700.8 L831.5,698.4 L832.2,696.0 L833.0,693.7 L833.8,691.3 L834.5,688.9 L835.3,686.5 L836.1,684.2 L836.9,681.8 L837.7,679.4 L838.5,677.1 L839.3,674.7 L840.1,672.3 L840.9,670.0 L841.8,667.6 L842.6,665.2 L843.4,662.9 L844.2,660.5 L845.1,658.2 L845.9,655.8 L846.7,653.5 L847.6,651.1 L848.4,648.7 L849.3,646.4 L850.1,644.0 L851.0,641.7 L851.8,639.3 L852.7,637.0 L853.5,634.6 L854.4,632.3 L855.2,629.9 L856.1,627.6 L856.9,625.2 L857.7,622.9 L858.6,620.5 L859.4,618.2 L860.3,615.8 L861.1,613.5 L862.0,611.1 L862.8,608.8 L863.6,606.4 L864.5,604.1 L865.3,601.7 L866.1,599.4 L867.0,597.0 L867.8,594.6 L868.6,592.3 L869.4,589.9 L870.2,587.6 L871.0,585.2 L871.8,582.8 L872.6,580.5 L873.4,578.1 L874.2,575.7 L875.0,573.4 L875.7,571.0 L876.5,568.6 L877.3,566.2 L878.0,563.9 L878.8,561.5 L879.5,559.1 L880.2,556.7 L881.0,554.3 L881.7,552.0 L882.4,549.6 L883.1,547.2 L883.8,544.8 L884.5,542.4 L885.2,540.0 L885.8,537.6 L886.5,535.2 L887.1,532.8 L887.8,530.3 L888.4,527.9 L889.1,525.5 L889.7,523.1 L890.3,520.7 L890.9,518.3 L891.5,515.9 L892.1,513.4 L892.7,511.0 L893.3,508.6 L893.9,506.2 L894.5,503.7 L895.1,501.3 L895.6,498.9 L896.2,496.4 L896.8,494.0 L897.3,491.6 L897.9,489.1 L898.4,486.7 L898.9,484.2 L899.5,481.8 L900.0,479.4 L900.5,476.9 L901.0,474.5 L901.5,472.0 L902.1,469.6 L902.6,467.1 L903.1,464.7 L903.6,462.2 L904.1,459.8 L904.5,457.3 L905.0,454.9 L905.5,452.4 L906.0,450.0 L906.5,447.5 L906.9,445.0 L907.4,442.6 L907.9,440.1 L908.3,437.7 L908.8,435.2 L909.3,432.8 L909.7,430.3 L910.2,427.8 L910.6,425.4 L911.1,422.9 L911.5,420.5 L912.0,418.0 L912.4,415.5 L912.8,413.1 L913.3,410.6 L913.7,408.2 L914.2,405.7 L914.6,403.2 L915.0,400.8 L915.5,398.3 L915.9,395.9 L916.3,393.4 L916.7,390.9 L917.2,388.5 L917.6,386.0 L918.0,383.5 L918.4,381.1 L918.8,378.6 L919.3,376.1 L919.7,373.7 L920.1,371.2 L920.5,368.7 L920.9,366.3 L921.3,363.8 L921.7,361.3 L922.1,358.9 L922.5,356.4 L922.9,353.9 L923.3,351.5 L923.7,349.0 L924.0,346.5 L924.4,344.0 L924.8,341.6 L925.2,339.1 L925.6,336.6 L925.9,334.1 L926.3,331.7 L926.7,329.2 L927.1,326.7 L927.4,324.2 L927.8,321.7 L928.1,319.2 L928.5,316.8 L928.9,314.3 L929.2,311.8 L929.6,309.3 L929.9,306.8 L930.3,304.3 L930.6,301.8 L930.9,299.3 L931.3,296.8 L931.6,294.3 L932.0,291.8 L932.3,289.3 L932.7,286.8 L933.0,284.4 L933.4,281.9 L933.8,279.4 L934.2,276.9 L934.7,274.5 L935.2,272.0 L935.7,269.5 L936.2,267.1 L936.8,264.7 L937.4,262.3 L938.0,259.8 L938.7,257.5 L939.4,255.1 L940.2,252.7 L941.0,250.4 L941.9,248.0 L942.8,245.7 L943.7,243.4 L944.7,241.1 L945.6,238.7 L946.5,236.4 L947.3,234.1 L948.1,231.7 L948.8,229.3 L949.4,226.9 L950.0,224.4 L950.5,222.0 L951.0,219.5 L951.5,217.0 L952.0,214.5 L952.4,212.0 L952.9,209.6 L953.4,207.1 L953.8,204.6 L954.4,202.2 L955.0,199.7 L955.6,197.3 L956.3,194.9 L957.0,192.5 L957.9,190.2 L958.8,187.8 L959.9,185.6 L961.0,183.3 L962.3,181.1 L963.7,179.0 L965.3,176.9 L966.9,174.9 L968.7,173.0 L970.6,171.2 L972.6,169.6 L974.7,168.2 L976.9,167.1 L979.1,166.2 L981.4,165.5 L983.7,165.2 L986.1,165.1 L988.5,165.2 L991.0,165.6 L993.4,166.2 L995.9,166.9 L998.4,167.8 L1000.9,168.7 L1003.3,169.7 L1005.7,170.7 L1008.1,171.8 L1010.5,172.8 L1012.8,173.9 L1015.0,175.0 L1017.2,176.1 L1019.4,177.4 L1021.5,178.7 L1023.6,180.1 L1025.5,181.7 L1027.4,183.4 L1029.1,185.3 L1030.6,187.2 L1032.0,189.3 L1033.3,191.4 L1034.5,193.6 L1035.6,195.9 L1036.7,198.2 L1037.8,200.5 L1038.9,202.8 L1039.9,205.1 L1041.0,207.3 L1042.0,209.6 L1043.1,211.9 L1044.1,214.2 L1045.2,216.4 L1046.2,218.7 L1047.2,221.0 L1048.2,223.2 L1049.2,225.5 L1050.1,227.8 L1051.1,230.1 L1052.0,232.4 L1052.9,234.8 L1053.7,237.1 L1054.5,239.5 L1055.3,241.8 L1056.1,244.2 L1056.8,246.6 L1057.6,249.0 L1058.3,251.4 L1059.0,253.8 L1059.6,256.3 L1060.3,258.7 L1061.0,261.1 L1061.6,263.5 L1062.3,266.0 L1062.9,268.4 L1063.6,270.9 L1064.2,273.3 L1064.9,275.7 L1065.6,278.1 L1066.2,280.6 L1066.9,283.0 L1067.6,285.4 L1068.4,287.8 L1069.1,290.2 L1069.9,292.6 L1070.6,294.9 L1071.4,297.3 L1072.3,299.7 L1073.1,302.0 L1073.9,304.4 L1074.8,306.7 L1075.7,309.0 L1076.5,311.3 L1077.4,313.7 L1078.4,316.0 L1079.3,318.3 L1080.2,320.6 L1081.2,322.9 L1082.1,325.1 L1083.1,327.4 L1084.1,329.7 L1085.1,332.0 L1086.1,334.2 L1087.1,336.5 L1088.2,338.8 L1089.2,341.0 L1090.2,343.3 L1091.3,345.5 L1092.4,347.8 L1093.4,350.0 L1094.5,352.2 L1095.6,354.5 L1096.7,356.7 L1097.8,358.9 L1098.9,361.2 L1100.0,363.4 L1101.1,365.6 L1102.2,367.8 L1103.3,370.1 L1104.4,372.3 L1105.5,374.5 L1106.7,376.7 L1107.8,379.0 L1108.9,381.2 L1110.1,383.4 L1111.2,385.6 L1112.3,387.9 L1113.5,390.1 L1114.6,392.3 L1115.7,394.6 L1116.9,396.8 L1118.0,399.0 L1119.1,401.2 L1120.3,403.5 L1121.4,405.7 L1122.6,407.9 L1123.7,410.1 L1124.9,412.4 L1126.0,414.6 L1127.2,416.8 L1128.3,419.1 L1129.5,421.3 L1130.6,423.5 L1131.8,425.7 L1132.9,428.0 L1134.1,430.2 L1135.3,432.4 L1136.4,434.6 L1137.6,436.8 L1138.8,439.1 L1139.9,441.3 L1141.1,443.5 L1142.3,445.7 L1143.5,447.9 L1144.7,450.1 L1145.9,452.4 L1147.1,454.6 L1148.2,456.8 L1149.4,459.0 L1150.6,461.2 L1151.8,463.4 L1153.1,465.6 L1154.3,467.8 L1155.5,470.0 L1156.7,472.2 L1157.9,474.4 L1159.1,476.6 L1160.4,478.8 L1161.6,481.0 L1162.8,483.2 L1164.1,485.4 L1165.3,487.5 L1166.6,489.7 L1167.8,491.9 L1169.1,494.1 L1170.3,496.2 L1171.6,498.4 L1172.9,500.6 L1174.1,502.7 L1175.4,504.9 L1176.7,507.1 L1178.0,509.2 L1179.3,511.4 L1180.5,513.5 L1181.8,515.7 L1183.1,517.8 L1184.5,520.0 L1185.8,522.1 L1187.1,524.2 L1188.4,526.4 L1189.7,528.5 L1191.1,530.6 L1192.4,532.7 L1193.8,534.8 L1195.1,536.9 L1196.5,539.0 L1197.8,541.1 L1199.2,543.2 L1200.5,545.3 L1201.9,547.4 L1203.3,549.5 L1204.7,551.6 L1206.1,553.7 L1207.5,555.8 L1208.9,557.8 L1210.3,559.9 L1211.7,561.9 L1213.1,564.0 L1214.6,566.0 L1216.0,568.1 L1217.5,570.1 L1218.9,572.2 L1220.4,574.2 L1221.8,576.2 L1223.3,578.2 L1224.8,580.3 L1226.2,582.3 L1227.7,584.3 L1229.2,586.3 L1230.7,588.3 L1232.2,590.2 L1233.8,592.2 L1235.3,594.2 L1236.8,596.2 L1238.3,598.1 L1239.9,600.1 L1241.4,602.0 L1243.0,604.0 L1244.6,605.9 L1246.1,607.9 L1247.7,609.8 L1249.3,611.7 L1250.9,613.6 L1252.5,615.5 L1254.1,617.4 L1255.7,619.3 L1257.4,621.2 L1259.0,623.1 L1260.6,625.0 L1262.3,626.9 L1263.9,628.7 L1265.6,630.6 L1267.3,632.4 L1269.0,634.3 L1270.6,636.1 L1272.3,638.0 L1274.0,639.8 L1275.7,641.6 L1277.5,643.4 L1279.2,645.2 L1280.9,647.0 L1282.7,648.8 L1284.4,650.6 L1286.2,652.3 L1287.9,654.1 L1289.7,655.9 L1291.5,657.6 L1293.3,659.3 L1295.1,661.1 L1296.9,662.8 L1298.7,664.5 L1300.5,666.2 L1302.3,667.9 L1304.1,669.6 L1306.0,671.3 L1307.8,673.0 L1309.7,674.7 L1311.6,676.3 L1313.4,678.0 L1315.3,679.6 L1317.2,681.3 L1319.1,682.9 L1321.0,684.5 L1322.9,686.1 L1324.9,687.7 L1326.8,689.3 L1328.7,690.9 L1330.7,692.5 L1332.6,694.0 L1334.6,695.6 L1336.6,697.2 L1338.6,698.7 L1340.5,700.2 L1342.5,701.8 L1344.6,703.3 L1346.6,704.8 L1348.6,706.3 L1350.6,707.8 L1352.7,709.2 L1354.7,710.7 L1356.8,712.2 L1358.8,713.6 L1360.9,715.0 L1363.0,716.5 L1365.1,717.9 L1367.2,719.3 L1369.3,720.7 L1371.4,722.0 L1373.5,723.4 L1375.6,724.8 L1377.8,726.1 L1379.9,727.4 L1382.0,728.8 L1384.2,730.1 L1386.3,731.4 L1388.5,732.6 L1390.7,733.9 L1392.9,735.2 L1395.0,736.4 L1397.2,737.6 L1399.4,738.8 L1401.6,740.0 L1403.8,741.2 L1406.0,742.4 L1408.2,743.5 L1410.5,744.7 L1412.7,745.8 L1414.9,746.9 L1417.1,748.0 L1419.4,749.1 L1421.6,750.2 L1423.9,751.2 L1426.1,752.3 L1428.4,753.3 L1430.7,754.3 L1432.9,755.3 L1435.2,756.3 L1437.5,757.3 L1439.8,758.3 L1442.1,759.2 L1444.4,760.2 L1446.7,761.1 L1449.0,762.1 L1451.3,763.0 L1453.6,763.9 L1455.9,764.8 L1458.2,765.7 L1460.5,766.5 L1462.9,767.4 L1465.2,768.3 L1467.5,769.1 L1469.9,769.9 L1472.2,770.8 L1474.6,771.6 L1476.9,772.4 L1479.3,773.2 L1481.7,774.0 L1484.0,774.8 L1486.4,775.6 L1488.8,776.3 L1491.2,777.1 L1493.5,777.8 L1495.9,778.6 L1498.3,779.3 L1500.7,780.0 L1503.1,780.8 L1505.5,781.5 L1507.9,782.2 L1510.3,782.9 L1512.7,783.6 L1515.1,784.3 L1517.6,785.0 L1520.0,785.6 L1522.4,786.3 L1524.8,787.0 L1527.2,787.6 L1529.7,788.3 L1532.1,788.9 L1534.5,789.6 L1537.0,790.2 L1539.4,790.8 L1541.8,791.5 L1544.3,792.1 L1546.7,792.7 L1549.1,793.3 L1551.6,793.9 L1554.0,794.5 L1556.5,795.1 L1558.9,795.7 L1561.3,796.3 L1563.8,796.9 L1566.2,797.5 L1568.7,798.1 L1571.1,798.6 L1573.6,799.2 L1576.0,799.8 L1578.5,800.3 L1580.9,800.9 L1583.4,801.5 L1585.8,802.0 L1588.2,802.6 L1590.7,803.1 L1593.1,803.7 L1595.6,804.2 L1598.0,804.7 L1600.5,805.3 L1602.9,805.8 L1605.3,806.4 L1607.8,806.9 L1610.2,807.4 L1612.7,808.0 L1615.1,808.5 L1617.5,809.0 L1620.0,809.6 L1622.4,810.1 L1624.8,810.6 L1627.2,811.2 L1629.7,811.7 L1632.1,812.2" fill="none" stroke="#0000ff" stroke-width="12.5" stroke-linecap="round" stroke-linejoin="round"/>
<path d="M353.1,1211.8 L354.9,1213.6 L356.7,1215.3 L358.7,1217.0 L360.7,1218.6 L362.7,1220.1 L364.8,1221.4 L367.0,1222.5 L369.3,1223.5 L371.7,1224.2 L374.1,1224.9 L376.5,1225.4 L379.0,1225.9 L381.5,1226.3 L383.9,1226.6 L386.4,1227.0 L388.9,1227.3 L391.4,1227.6 L393.9,1227.8 L396.3,1228.1 L398.8,1228.3 L401.3,1228.5 L403.8,1228.6 L406.3,1228.8 L408.8,1228.9 L411.3,1229.0 L413.8,1229.1 L416.3,1229.2 L418.8,1229.2 L421.3,1229.3 L423.8,1229.3 L426.4,1229.4 L428.9,1229.4 L431.4,1229.4 L433.9,1229.4 L436.4,1229.4 L438.9,1229.4 L441.4,1229.4 L443.9,1229.4 L446.4,1229.4 L448.9,1229.4 L451.4,1229.4 L454.0,1229.4 L456.5,1229.4 L459.0,1229.4 L461.5,1229.5 L464.0,1229.5 L466.5,1229.5 L469.0,1229.5 L471.5,1229.5 L474.0,1229.6 L476.5,1229.6 L479.0,1229.6 L481.5,1229.7 L484.0,1229.7 L486.5,1229.7 L489.0,1229.7 L491.5,1229.8 L494.0,1229.8 L496.5,1229.8 L499.0,1229.9 L501.5,1229.9 L504.0,1229.9 L506.5,1229.9 L509.0,1230.0 L511.5,1230.0 L514.0,1230.0 L516.5,1230.0 L519.0,1230.0 L521.5,1230.0 L524.0,1230.0 L526.5,1230.0 L529.0,1230.0 L531.5,1230.0 L534.0,1230.0 L536.5,1230.0 L539.0,1230.0 L541.5,1230.0 L544.0,1230.0 L546.5,1230.0 L549.0,1230.0 L551.5,1229.9 L554.0,1229.9 L556.5,1229.9 L559.0,1229.9 L561.5,1229.9 L564.0,1229.9 L566.5,1229.9 L569.0,1229.9 L571.5,1229.9 L574.0,1229.9 L576.5,1229.8 L579.0,1229.8 L581.6,1229.9 L584.1,1229.9 L586.6,1229.9 L589.1,1229.9 L591.6,1229.9 L594.1,1229.9 L596.6,1229.9 L599.1,1230.0 L601.6,1230.0 L604.1,1230.1 L606.6,1230.1 L609.2,1230.1 L611.7,1230.2 L614.2,1230.2 L616.7,1230.2 L619.2,1230.2 L621.7,1230.1 L624.2,1230.1 L626.7,1230.0 L629.2,1229.9 L631.7,1229.8 L634.2,1229.6 L636.7,1229.4 L639.2,1229.1 L641.6,1228.8 L644.1,1228.5 L646.6,1228.1 L649.0,1227.6 L651.5,1227.2 L654.0,1226.7 L656.4,1226.1 L658.8,1225.6 L661.3,1224.9 L663.7,1224.3 L666.1,1223.7 L668.6,1223.0 L671.0,1222.3 L673.4,1221.6 L675.9,1221.0 L678.3,1220.3 L680.7,1219.8 L683.2,1219.3 L685.6,1218.9 L688.1,1218.5 L690.5,1218.3 L693.0,1218.2 L695.5,1218.1 L698.0,1218.1 L700.5,1218.2 L703.0,1218.2 L705.6,1218.3 L708.1,1218.4 L710.6,1218.4 L713.1,1218.4 L715.6,1218.4 L718.1,1218.3 L720.6,1218.2 L723.1,1218.1 L725.6,1217.9 L728.1,1217.7 L730.6,1217.5 L733.1,1217.3 L735.6,1217.1 L738.1,1216.9 L740.6,1216.6 L743.1,1216.3 L745.6,1216.0 L748.0,1215.7 L750.5,1215.3 L753.0,1214.8 L755.4,1214.4 L757.8,1213.8 L760.3,1213.2 L762.7,1212.6 L765.1,1211.8 L767.5,1211.1 L769.8,1210.2 L772.2,1209.3 L774.5,1208.4 L776.9,1207.5 L779.2,1206.5 L781.5,1205.4 L783.7,1204.4 L786.0,1203.4 L788.3,1202.3 L790.5,1201.2 L792.7,1200.1 L795.0,1199.0 L797.2,1197.9 L799.4,1196.7 L801.6,1195.6 L803.8,1194.4 L806.0,1193.2 L808.2,1192.1 L810.4,1190.9 L812.6,1189.7 L814.8,1188.5 L817.1,1187.3 L819.3,1186.1 L821.5,1184.9 L823.8,1183.6 L826.0,1182.4 L828.3,1181.2 L830.5,1180.0 L832.7,1178.8 L835.0,1177.5 L837.2,1176.2 L839.4,1175.0 L841.7,1173.7 L843.9,1172.4 L846.0,1171.0 L848.2,1169.7 L850.3,1168.3 L852.4,1166.9 L854.5,1165.5 L856.6,1164.0 L858.6,1162.5 L860.6,1161.0 L862.6,1159.4 L864.5,1157.8 L866.4,1156.2 L868.2,1154.5 L870.0,1152.8 L871.7,1151.1 L873.4,1149.3 L875.0,1147.4 L876.6,1145.6 L878.2,1143.6 L879.7,1141.7 L881.1,1139.7 L882.5,1137.6 L883.9,1135.6 L885.2,1133.5 L886.5,1131.4 L887.7,1129.2 L888.9,1127.0 L890.1,1124.8 L891.3,1122.6 L892.4,1120.4 L893.5,1118.1 L894.5,1115.9 L895.5,1113.6 L896.5,1111.3 L897.5,1109.0 L898.5,1106.7 L899.4,1104.4 L900.3,1102.0 L901.2,1099.7 L902.0,1097.4 L902.9,1095.0 L903.7,1092.7 L904.5,1090.3 L905.3,1088.0 L906.0,1085.6 L906.8,1083.2 L907.5,1080.8 L908.2,1078.4 L908.9,1076.0 L909.6,1073.6 L910.2,1071.2 L910.9,1068.8 L911.5,1066.4 L912.1,1064.0 L912.7,1061.5 L913.2,1059.1 L913.8,1056.7 L914.3,1054.2 L914.9,1051.8 L915.4,1049.3 L915.9,1046.9 L916.4,1044.4 L916.9,1042.0 L917.3,1039.5 L917.8,1037.0 L918.3,1034.6 L918.7,1032.1 L919.1,1029.6 L919.5,1027.1 L920.0,1024.7 L920.4,1022.2 L920.8,1019.7 L921.1,1017.2 L921.5,1014.7 L921.9,1012.2 L922.3,1009.7 L922.6,1007.2 L923.0,1004.7 L923.3,1002.2 L923.7,999.7 L924.0,997.2 L924.4,994.7 L924.7,992.2 L925.0,989.7 L925.4,987.2 L925.7,984.7 L926.0,982.2 L926.3,979.7 L926.7,977.2 L927.0,974.7 L927.3,972.2 L927.6,969.7 L928.0,967.3 L928.3,964.8 L928.6,962.3 L928.9,959.8 L929.3,957.3 L929.6,954.8 L929.9,952.3 L930.2,949.8 L930.6,947.3 L930.9,944.8 L931.2,942.3 L931.5,939.9 L931.9,937.4 L932.2,934.9 L932.5,932.4 L932.8,929.9 L933.2,927.4 L933.5,924.9 L933.8,922.5 L934.1,920.0 L934.5,917.5 L934.8,915.0 L935.1,912.5 L935.4,910.0 L935.8,907.6 L936.1,905.1 L936.4,902.6 L936.7,900.1 L937.1,897.6 L937.4,895.2 L937.7,892.7 L938.0,890.2 L938.3,887.7 L938.6,885.3 L939.0,882.8 L939.3,880.3 L939.6,877.8 L939.9,875.3 L940.2,872.9 L940.5,870.4 L940.9,867.9 L941.2,865.4 L941.5,863.0 L941.8,860.5 L942.1,858.0 L942.4,855.5 L942.7,853.0 L943.0,850.6 L943.3,848.1 L943.7,845.6 L944.0,843.1 L944.3,840.7 L944.6,838.2 L944.9,835.7 L945.2,833.2 L945.5,830.7 L945.8,828.3 L946.1,825.8 L946.4,823.3 L946.7,820.8 L947.0,818.4 L947.2,815.9 L947.5,813.4 L947.8,810.9 L948.1,808.4 L948.4,805.9 L948.7,803.5 L949.0,801.0 L949.3,798.5 L949.5,796.0 L949.8,793.5 L950.1,791.0 L950.4,788.6 L950.7,786.1 L950.9,783.6 L951.2,781.1 L951.5,778.6 L951.8,776.1 L952.1,773.7 L952.3,771.2 L952.6,768.7 L952.9,766.2 L953.2,763.7 L953.4,761.2 L953.7,758.7 L954.0,756.2 L954.2,753.8 L954.5,751.3 L954.8,748.8 L955.1,746.3 L955.3,743.8 L955.6,741.3 L955.9,738.8 L956.1,736.3 L956.4,733.9 L956.7,731.4 L957.0,728.9 L957.2,726.4 L957.5,723.9 L957.8,721.4 L958.0,718.9 L958.3,716.4 L958.6,713.9 L958.9,711.5 L959.1,709.0 L959.4,706.5 L959.7,704.0 L959.9,701.5 L960.2,699.0 L960.5,696.5 L960.8,694.0 L961.1,691.5 L961.3,689.0 L961.6,686.6 L961.9,684.1 L962.2,681.6 L962.4,679.1 L962.7,676.6 L963.0,674.1 L963.3,671.6 L963.6,669.1 L963.9,666.6 L964.2,664.2 L964.4,661.7 L964.7,659.2 L965.0,656.7 L965.3,654.2 L965.6,651.7 L965.9,649.2 L966.2,646.7 L966.5,644.3 L966.8,641.8 L967.1,639.3 L967.4,636.8 L967.7,634.3 L968.0,631.8 L968.3,629.3 L968.6,626.9 L968.9,624.4 L969.2,621.9 L969.6,619.4 L969.9,616.9 L970.2,614.4 L970.5,611.9 L970.8,609.5 L971.2,607.0 L971.5,604.5 L971.8,602.0 L972.1,599.5 L972.5,597.0 L972.8,594.6 L973.1,592.1 L973.5,589.6 L973.8,587.1 L974.2,584.6 L974.5,582.2 L974.9,579.7 L975.2,577.2 L975.6,574.7 L975.9,572.2 L976.3,569.8 L976.7,567.3 L977.0,564.8 L977.4,562.3 L977.8,559.9 L978.1,557.4 L978.5,554.9 L978.9,552.4 L979.3,550.0 L979.7,547.5 L980.0,545.0 L980.4,542.5 L980.8,540.1 L981.2,537.6 L981.6,535.1 L982.0,532.7 L982.4,530.2 L982.9,527.7 L983.3,525.2 L983.7,522.8 L984.1,520.3 L984.5,517.8 L985.0,515.4 L985.4,512.9 L985.8,510.4 L986.3,508.0 L986.7,505.5 L987.2,503.1 L987.6,500.6 L988.1,498.1 L988.5,495.7 L989.0,493.2 L989.5,490.7 L989.9,488.3 L990.4,485.8 L990.9,483.4 L991.4,480.9 L991.9,478.5 L992.4,476.0 L992.9,473.6 L993.4,471.1 L993.9,468.7 L994.4,466.2 L995.0,463.8 L995.5,461.3 L996.1,458.9 L996.7,456.5 L997.4,454.1 L998.0,451.7 L998.7,449.3 L999.4,446.9 L1000.1,444.6 L1000.9,442.2 L1001.7,439.8 L1002.6,437.5 L1003.4,435.2 L1004.4,432.9 L1005.3,430.6 L1006.3,428.3 L1007.4,426.1 L1008.5,423.9 L1009.6,421.6 L1010.8,419.4 L1012.1,417.3 L1013.3,415.1 L1014.6,412.9 L1015.9,410.7 L1017.1,408.6 L1018.4,406.4 L1019.6,404.2 L1020.9,402.0 L1022.0,399.8 L1023.2,397.6 L1024.2,395.3 L1025.2,393.0 L1026.2,390.7 L1027.0,388.4 L1027.8,386.0 L1028.5,383.6 L1029.1,381.2 L1029.6,378.7 L1030.1,376.2 L1030.6,373.7 L1031.0,371.2 L1031.4,368.7 L1031.8,366.2 L1032.2,363.7 L1032.6,361.2 L1033.1,358.7 L1033.5,356.2 L1033.9,353.7 L1034.4,351.3 L1034.8,348.8 L1035.3,346.3 L1035.8,343.9 L1036.2,341.4 L1036.7,339.0 L1037.2,336.5 L1037.7,334.1 L1038.2,331.6 L1038.7,329.2 L1039.2,326.8 L1039.7,324.4 L1040.3,321.9 L1040.8,319.5 L1041.3,317.1 L1041.9,314.7 L1042.4,312.3 L1043.0,309.8 L1043.5,307.4 L1044.1,305.0 L1044.7,302.6 L1045.3,300.2 L1045.8,297.8 L1046.4,295.4 L1047.0,293.0 L1047.6,290.6 L1048.2,288.2 L1048.8,285.8 L1049.4,283.4 L1050.0,280.9 L1050.6,278.5 L1051.2,276.1 L1051.9,273.7 L1052.5,271.3 L1053.1,268.9 L1053.8,266.5 L1054.4,264.0 L1055.0,261.6 L1055.7,259.2 L1056.3,256.8 L1056.9,254.3 L1057.6,251.9 L1058.2,249.5 L1058.9,247.0 L1059.5,244.6 L1060.2,242.1 L1060.8,239.7 L1061.5,237.2 L1062.2,234.7 L1062.8,232.3 L1063.5,229.8 L1064.2,227.3 L1064.8,224.9 L1065.5,222.4 L1066.2,219.9 L1067.0,217.5 L1067.7,215.0 L1068.5,212.6 L1069.3,210.2 L1070.2,207.8 L1071.1,205.5 L1072.0,203.1 L1073.0,200.8 L1074.1,198.6 L1075.2,196.4 L1076.4,194.2 L1077.6,192.0 L1078.9,189.9 L1080.3,187.9 L1081.8,185.9 L1083.3,184.0 L1085.0,182.1 L1086.7,180.3 L1088.5,178.5 L1090.3,176.9 L1092.3,175.3 L1094.3,173.7 L1096.3,172.3 L1098.4,170.9 L1100.6,169.7 L1102.8,168.5 L1105.0,167.4 L1107.3,166.4 L1109.6,165.6 L1111.9,164.8 L1114.3,164.2 L1116.6,163.6 L1119.0,163.2 L1121.3,162.9 L1123.7,162.8 L1126.0,162.7 L1128.4,162.7 L1130.8,162.9 L1133.1,163.1 L1135.5,163.4 L1137.9,163.8 L1140.2,164.3 L1142.6,164.9 L1144.9,165.6 L1147.3,166.4 L1149.6,167.2 L1152.0,168.1 L1154.3,169.1 L1156.6,170.1 L1158.9,171.2 L1161.2,172.3 L1163.5,173.5 L1165.8,174.8 L1168.1,176.1 L1170.3,177.4 L1172.5,178.8 L1174.8,180.2 L1177.0,181.6 L1179.1,183.1 L1181.3,184.5 L1183.4,186.1 L1185.6,187.6 L1187.7,189.1 L1189.8,190.7 L1191.8,192.2 L1193.8,193.8 L1195.9,195.3 L1197.8,196.9 L1199.8,198.5 L1201.8,200.1 L1203.7,201.6 L1205.6,203.2 L1207.5,204.8 L1209.4,206.4 L1211.3,208.0 L1213.1,209.6 L1215.0,211.2 L1216.8,212.9 L1218.6,214.5 L1220.5,216.1 L1222.3,217.7 L1224.1,219.4 L1225.9,221.0 L1227.7,222.7 L1229.4,224.3 L1231.2,226.0 L1233.0,227.6 L1234.8,229.3 L1236.6,230.9 L1238.4,232.6 L1240.2,234.3 L1242.0,236.0 L1243.7,237.6 L1245.5,239.3 L1247.3,241.0 L1249.2,242.7 L1251.0,244.4 L1252.8,246.1 L1254.6,247.8 L1256.4,249.5 L1258.2,251.2 L1260.0,252.9 L1261.9,254.7 L1263.7,256.4 L1265.5,258.1 L1267.3,259.8 L1269.2,261.5 L1271.0,263.3 L1272.8,265.0 L1274.7,266.7 L1276.5,268.4 L1278.3,270.2 L1280.2,271.9 L1282.0,273.6 L1283.9,275.4 L1285.7,277.1 L1287.5,278.8 L1289.4,280.6 L1291.2,282.3 L1293.0,284.0 L1294.9,285.8 L1296.7,287.5 L1298.5,289.3 L1300.4,291.0 L1302.2,292.7 L1304.0,294.5 L1305.9,296.2 L1307.7,297.9 L1309.5,299.6 L1311.4,301.4 L1313.2,303.1 L1315.0,304.8 L1316.9,306.5 L1318.7,308.3 L1320.5,310.0 L1322.4,311.7 L1324.2,313.4 L1326.1,315.1 L1327.9,316.8 L1329.7,318.5 L1331.6,320.2 L1333.4,321.9 L1335.3,323.6 L1337.1,325.3 L1339.0,327.0 L1340.8,328.7 L1342.7,330.4 L1344.6,332.1 L1346.4,333.7 L1348.3,335.4 L1350.2,337.1 L1352.0,338.7 L1353.9,340.4 L1355.8,342.0 L1357.7,343.7 L1359.6,345.3 L1361.5,346.9 L1363.4,348.6 L1365.3,350.2 L1367.2,351.8 L1369.1,353.4 L1371.0,355.0 L1372.9,356.6 L1374.8,358.2 L1376.7,359.8 L1378.7,361.4 L1380.6,362.9 L1382.6,364.5 L1384.5,366.1 L1386.5,367.6 L1388.4,369.2 L1390.4,370.7 L1392.3,372.2 L1394.3,373.7 L1396.3,375.2 L1398.3,376.7 L1400.3,378.2 L1402.3,379.7 L1404.3,381.2 L1406.3,382.7 L1408.3,384.1 L1410.4,385.6 L1412.4,387.0 L1414.4,388.5 L1416.5,389.9 L1418.5,391.3 L1420.6,392.7 L1422.6,394.2 L1424.7,395.6 L1426.8,396.9 L1428.8,398.3 L1430.9,399.7 L1433.0,401.1 L1435.1,402.4 L1437.2,403.8 L1439.3,405.1 L1441.4,406.5 L1443.5,407.8 L1445.6,409.2 L1447.8,410.5 L1449.9,411.8 L1452.0,413.1 L1454.1,414.4 L1456.3,415.7 L1458.4,417.0 L1460.6,418.3 L1462.7,419.5 L1464.9,420.8 L1467.0,422.1 L1469.2,423.3 L1471.4,424.6 L1473.6,425.8 L1475.7,427.0 L1477.9,428.3 L1480.1,429.5 L1482.3,430.7 L1484.5,431.9 L1486.7,433.1 L1488.9,434.3 L1491.1,435.5 L1493.3,436.7 L1495.5,437.9 L1497.7,439.0 L1499.9,440.2 L1502.2,441.4 L1504.4,442.5 L1506.6,443.7 L1508.8,444.8 L1511.1,446.0 L1513.3,447.1 L1515.6,448.2 L1517.8,449.4 L1520.1,450.5 L1522.3,451.6 L1524.6,452.7 L1526.8,453.8 L1529.1,454.9 L1531.3,456.0 L1533.6,457.1 L1535.8,458.2 L1538.1,459.2 L1540.4,460.3 L1542.7,461.4 L1544.9,462.5 L1547.2,463.5 L1549.5,464.6 L1551.8,465.6 L1554.0,466.7 L1556.3,467.7 L1558.6,468.7 L1560.9,469.8 L1563.2,470.8 L1565.5,471.8 L1567.8,472.8 L1570.1,473.9 L1572.3,474.9 L1574.6,475.9 L1576.9,476.9 L1579.2,477.9 L1581.5,478.9 L1583.8,479.9 L1586.1,480.9 L1588.4,481.8 L1590.7,482.8 L1593.1,483.8 L1595.4,484.8 L1597.7,485.7 L1600.0,486.7 L1602.3,487.7 L1604.6,488.6 L1606.9,489.6 L1609.2,490.5 L1611.5,491.5 L1613.8,492.4 L1616.1,493.4 L1618.4,494.3 L1620.8,495.2 L1623.1,496.2 L1625.4,497.1 L1627.7,498.0 L1630.0,499.0 L1632.3,499.9" fill="none" stroke="#ff0080" stroke-width="12.5" stroke-linecap="round" stroke-linejoin="round"/>
<path d="M353.0,1218.5 L355.5,1218.6 L358.0,1218.7 L360.5,1218.8 L363.0,1218.9 L365.5,1219.0 L368.1,1219.0 L370.6,1219.1 L373.1,1219.1 L375.6,1219.1 L378.1,1219.1 L380.6,1219.1 L383.1,1219.1 L385.6,1219.1 L388.1,1219.1 L390.6,1219.1 L393.1,1219.1 L395.6,1219.0 L398.1,1219.0 L400.6,1218.9 L403.1,1218.9 L405.6,1218.8 L408.1,1218.7 L410.6,1218.7 L413.1,1218.6 L415.6,1218.5 L418.1,1218.4 L420.6,1218.3 L423.1,1218.2 L425.6,1218.1 L428.1,1218.0 L430.6,1217.9 L433.1,1217.8 L435.6,1217.7 L438.1,1217.6 L440.6,1217.5 L443.2,1217.4 L445.7,1217.3 L448.2,1217.2 L450.7,1217.1 L453.2,1216.9 L455.7,1216.8 L458.2,1216.7 L460.7,1216.6 L463.2,1216.5 L465.7,1216.4 L468.2,1216.3 L470.7,1216.2 L473.2,1216.1 L475.7,1216.0 L478.2,1215.9 L480.7,1215.8 L483.2,1215.7 L485.7,1215.6 L488.2,1215.5 L490.7,1215.4 L493.2,1215.3 L495.8,1215.3 L498.3,1215.2 L500.8,1215.1 L503.3,1215.1 L505.8,1215.0 L508.3,1215.0 L510.8,1215.0 L513.3,1214.9 L515.8,1214.9 L518.3,1214.8 L520.8,1214.7 L523.3,1214.5 L525.8,1214.2 L528.2,1213.9 L530.7,1213.4 L533.1,1212.8 L535.5,1212.1 L537.8,1211.2 L540.2,1210.2 L542.5,1209.2 L544.8,1208.2 L547.2,1207.3 L549.6,1206.4 L552.0,1205.7 L554.5,1205.1 L556.9,1204.7 L559.4,1204.4 L561.9,1204.3 L564.4,1204.4 L566.9,1204.6 L569.4,1204.9 L571.9,1205.2 L574.4,1205.7 L576.9,1206.2 L579.3,1206.6 L581.8,1207.0 L584.3,1207.3 L586.8,1207.4 L589.2,1207.3 L591.7,1207.1 L594.2,1206.8 L596.7,1206.4 L599.2,1206.1 L601.7,1205.8 L604.2,1205.7 L606.7,1205.7 L609.2,1206.0 L611.6,1206.4 L614.1,1206.9 L616.5,1207.5 L618.9,1208.2 L621.3,1208.9 L623.7,1209.7 L626.0,1210.5 L628.4,1211.3 L630.8,1212.2 L633.2,1213.0 L635.5,1213.8 L637.9,1214.6 L640.3,1215.4 L642.7,1216.1 L645.1,1216.8 L647.5,1217.4 L650.0,1217.9 L652.4,1218.3 L654.8,1218.7 L657.3,1219.1 L659.8,1219.4 L662.3,1219.6 L664.7,1219.8 L667.2,1220.0 L669.7,1220.1 L672.2,1220.2 L674.8,1220.2 L677.3,1220.2 L679.8,1220.2 L682.3,1220.2 L684.8,1220.2 L687.4,1220.1 L689.9,1220.0 L692.4,1220.0 L695.0,1219.9 L697.5,1219.8 L700.0,1219.7 L702.6,1219.6 L705.1,1219.6 L707.6,1219.5 L710.1,1219.4 L712.7,1219.4 L715.2,1219.3 L717.7,1219.3 L720.2,1219.3 L722.7,1219.2 L725.2,1219.2 L727.7,1219.2 L730.3,1219.2 L732.8,1219.1 L735.3,1219.1 L737.8,1219.1 L740.3,1219.1 L742.8,1219.1 L745.3,1219.1 L747.8,1219.1 L750.3,1219.1 L752.8,1219.1 L755.3,1219.2 L757.8,1219.2 L760.3,1219.2 L762.8,1219.2 L765.3,1219.2 L767.8,1219.3 L770.3,1219.3 L772.8,1219.3 L775.3,1219.4 L777.8,1219.4 L780.3,1219.4 L782.8,1219.5 L785.3,1219.5 L787.8,1219.6 L790.3,1219.6 L792.8,1219.6 L795.3,1219.7 L797.8,1219.7 L800.3,1219.8 L802.7,1219.8 L805.2,1219.9 L807.7,1219.9 L810.2,1220.0 L812.7,1220.0 L815.2,1220.1 L817.7,1220.1 L820.2,1220.1 L822.7,1220.2 L825.2,1220.2 L827.7,1220.2 L830.2,1220.3 L832.7,1220.3 L835.2,1220.3 L837.7,1220.4 L840.2,1220.4 L842.7,1220.4 L845.2,1220.4 L847.7,1220.4 L850.2,1220.4 L852.7,1220.4 L855.2,1220.4 L857.8,1220.4 L860.3,1220.4 L862.8,1220.3 L865.3,1220.3 L867.8,1220.3 L870.3,1220.2 L872.8,1220.2 L875.3,1220.1 L877.8,1220.0 L880.3,1220.0 L882.8,1219.9 L885.4,1219.8 L887.9,1219.7 L890.4,1219.6 L892.9,1219.4 L895.4,1219.3 L897.9,1219.2 L900.4,1219.0 L903.0,1218.9 L905.5,1218.7 L908.0,1218.5 L910.5,1218.3 L913.0,1218.1 L915.6,1217.9 L918.1,1217.7 L920.6,1217.4 L923.1,1217.1 L925.6,1216.7 L928.0,1216.2 L930.4,1215.5 L932.7,1214.8 L934.9,1213.8 L937.1,1212.7 L939.2,1211.4 L941.2,1209.9 L943.1,1208.2 L944.9,1206.4 L946.6,1204.5 L948.3,1202.6 L949.8,1200.5 L951.3,1198.5 L952.7,1196.4 L954.0,1194.3 L955.3,1192.2 L956.5,1190.0 L957.7,1187.9 L958.8,1185.7 L959.9,1183.4 L961.0,1181.2 L962.0,1178.9 L963.1,1176.7 L964.1,1174.4 L965.0,1172.1 L966.0,1169.7 L966.9,1167.4 L967.8,1165.0 L968.6,1162.7 L969.5,1160.3 L970.3,1157.9 L971.2,1155.5 L972.0,1153.1 L972.8,1150.8 L973.6,1148.4 L974.4,1146.0 L975.2,1143.6 L975.9,1141.2 L976.7,1138.8 L977.5,1136.4 L978.2,1134.0 L979.0,1131.6 L979.7,1129.2 L980.4,1126.8 L981.2,1124.4 L981.9,1122.0 L982.6,1119.6 L983.3,1117.2 L984.1,1114.8 L984.8,1112.4 L985.5,1110.0 L986.2,1107.6 L986.9,1105.2 L987.6,1102.8 L988.3,1100.4 L989.0,1098.1 L989.7,1095.7 L990.4,1093.3 L991.2,1090.9 L992.0,1088.6 L992.7,1086.2 L993.6,1083.8 L994.4,1081.5 L995.3,1079.2 L996.2,1076.8 L997.2,1074.5 L998.2,1072.2 L999.2,1069.9 L1000.3,1067.6 L1001.3,1065.3 L1002.4,1063.0 L1003.5,1060.8 L1004.6,1058.5 L1005.7,1056.2 L1006.8,1053.9 L1007.9,1051.7 L1009.1,1049.4 L1010.2,1047.1 L1011.3,1044.9 L1012.4,1042.6 L1013.5,1040.3 L1014.5,1038.0 L1015.6,1035.7 L1016.6,1033.4 L1017.6,1031.1 L1018.6,1028.8 L1019.5,1026.5 L1020.4,1024.1 L1021.3,1021.8 L1022.1,1019.4 L1022.9,1017.1 L1023.7,1014.7 L1024.5,1012.3 L1025.2,1010.0 L1025.9,1007.6 L1026.6,1005.2 L1027.3,1002.8 L1027.9,1000.4 L1028.5,998.0 L1029.1,995.5 L1029.7,993.1 L1030.2,990.7 L1030.8,988.2 L1031.3,985.8 L1031.8,983.3 L1032.3,980.9 L1032.7,978.4 L1033.2,976.0 L1033.6,973.5 L1034.0,971.1 L1034.5,968.6 L1034.9,966.1 L1035.3,963.6 L1035.6,961.2 L1036.0,958.7 L1036.4,956.2 L1036.8,953.7 L1037.1,951.3 L1037.5,948.8 L1037.8,946.3 L1038.2,943.8 L1038.5,941.3 L1038.9,938.8 L1039.2,936.4 L1039.6,933.9 L1039.9,931.4 L1040.2,928.9 L1040.6,926.4 L1040.9,923.9 L1041.3,921.4 L1041.6,919.0 L1041.9,916.5 L1042.3,914.0 L1042.6,911.5 L1042.9,909.0 L1043.2,906.5 L1043.6,904.1 L1043.9,901.6 L1044.2,899.1 L1044.6,896.6 L1044.9,894.1 L1045.2,891.6 L1045.5,889.2 L1045.8,886.7 L1046.2,884.2 L1046.5,881.7 L1046.8,879.2 L1047.1,876.7 L1047.4,874.2 L1047.8,871.8 L1048.1,869.3 L1048.4,866.8 L1048.7,864.3 L1049.0,861.8 L1049.3,859.3 L1049.7,856.9 L1050.0,854.4 L1050.3,851.9 L1050.6,849.4 L1050.9,846.9 L1051.2,844.4 L1051.6,841.9 L1051.9,839.5 L1052.2,837.0 L1052.5,834.5 L1052.8,832.0 L1053.1,829.5 L1053.4,827.0 L1053.8,824.6 L1054.1,822.1 L1054.4,819.6 L1054.7,817.1 L1055.0,814.6 L1055.3,812.1 L1055.7,809.7 L1056.0,807.2 L1056.3,804.7 L1056.6,802.2 L1056.9,799.7 L1057.2,797.2 L1057.6,794.7 L1057.9,792.3 L1058.2,789.8 L1058.5,787.3 L1058.9,784.8 L1059.2,782.3 L1059.5,779.8 L1059.8,777.4 L1060.2,774.9 L1060.5,772.4 L1060.8,769.9 L1061.2,767.4 L1061.5,764.9 L1061.8,762.5 L1062.2,760.0 L1062.5,757.5 L1062.8,755.0 L1063.2,752.5 L1063.5,750.0 L1063.8,747.6 L1064.2,745.1 L1064.5,742.6 L1064.9,740.1 L1065.2,737.6 L1065.6,735.2 L1065.9,732.7 L1066.3,730.2 L1066.6,727.7 L1067.0,725.2 L1067.3,722.7 L1067.7,720.3 L1068.0,717.8 L1068.4,715.3 L1068.8,712.8 L1069.1,710.3 L1069.5,707.9 L1069.8,705.4 L1070.2,702.9 L1070.6,700.4 L1070.9,697.9 L1071.3,695.5 L1071.7,693.0 L1072.1,690.5 L1072.4,688.0 L1072.8,685.6 L1073.2,683.1 L1073.6,680.6 L1074.0,678.1 L1074.3,675.6 L1074.7,673.2 L1075.1,670.7 L1075.5,668.2 L1075.9,665.7 L1076.3,663.3 L1076.7,660.8 L1077.1,658.3 L1077.5,655.8 L1077.9,653.4 L1078.3,650.9 L1078.7,648.4 L1079.1,645.9 L1079.5,643.5 L1079.9,641.0 L1080.3,638.5 L1080.8,636.1 L1081.2,633.6 L1081.6,631.1 L1082.0,628.6 L1082.4,626.2 L1082.9,623.7 L1083.3,621.2 L1083.7,618.8 L1084.2,616.3 L1084.6,613.8 L1085.0,611.4 L1085.5,608.9 L1085.9,606.4 L1086.4,604.0 L1086.8,601.5 L1087.3,599.0 L1087.7,596.6 L1088.2,594.1 L1088.6,591.6 L1089.1,589.2 L1089.6,586.7 L1090.0,584.3 L1090.5,581.8 L1091.0,579.3 L1091.4,576.9 L1091.9,574.4 L1092.4,571.9 L1092.9,569.5 L1093.3,567.0 L1093.8,564.6 L1094.3,562.1 L1094.8,559.7 L1095.3,557.2 L1095.8,554.8 L1096.3,552.3 L1096.8,549.8 L1097.3,547.4 L1097.8,544.9 L1098.3,542.5 L1098.8,540.0 L1099.3,537.6 L1099.9,535.1 L1100.4,532.7 L1100.9,530.2 L1101.4,527.8 L1101.9,525.3 L1102.5,522.9 L1103.0,520.4 L1103.6,518.0 L1104.1,515.6 L1104.6,513.1 L1105.2,510.7 L1105.7,508.2 L1106.3,505.8 L1106.8,503.3 L1107.4,500.9 L1108.0,498.5 L1108.5,496.0 L1109.1,493.6 L1109.7,491.1 L1110.2,488.7 L1110.8,486.3 L1111.4,483.8 L1112.0,481.4 L1112.6,479.0 L1113.2,476.5 L1113.8,474.1 L1114.4,471.7 L1115.0,469.2 L1115.6,466.8 L1116.2,464.4 L1116.8,462.0 L1117.4,459.5 L1118.0,457.1 L1118.6,454.7 L1119.3,452.3 L1119.9,449.8 L1120.5,447.4 L1121.2,445.0 L1121.8,442.6 L1122.4,440.2 L1123.1,437.7 L1123.7,435.3 L1124.4,432.9 L1125.0,430.5 L1125.7,428.1 L1126.4,425.7 L1127.0,423.2 L1127.7,420.8 L1128.4,418.4 L1129.1,416.0 L1129.7,413.6 L1130.4,411.2 L1131.1,408.8 L1131.8,406.4 L1132.5,404.0 L1133.2,401.6 L1133.9,399.2 L1134.6,396.8 L1135.3,394.4 L1136.1,392.0 L1136.8,389.6 L1137.5,387.2 L1138.2,384.8 L1139.0,382.4 L1139.7,380.0 L1140.5,377.6 L1141.2,375.2 L1141.9,372.8 L1142.7,370.4 L1143.5,368.0 L1144.2,365.6 L1145.0,363.2 L1145.8,360.8 L1146.5,358.5 L1147.3,356.1 L1148.1,353.7 L1148.9,351.3 L1149.7,348.9 L1150.5,346.5 L1151.3,344.2 L1152.1,341.8 L1152.9,339.4 L1153.7,337.0 L1154.5,334.7 L1155.3,332.3 L1156.1,329.9 L1157.0,327.6 L1157.8,325.2 L1158.6,322.8 L1159.5,320.4 L1160.3,318.1 L1161.2,315.7 L1162.0,313.4 L1162.9,311.0 L1163.8,308.6 L1164.6,306.3 L1165.5,303.9 L1166.4,301.6 L1167.3,299.2 L1168.2,296.9 L1169.1,294.5 L1170.0,292.2 L1171.0,289.9 L1171.9,287.5 L1172.8,285.2 L1173.8,282.9 L1174.7,280.6 L1175.7,278.2 L1176.7,275.9 L1177.7,273.6 L1178.7,271.3 L1179.7,269.1 L1180.7,266.8 L1181.8,264.5 L1182.8,262.2 L1183.9,260.0 L1185.0,257.7 L1186.1,255.5 L1187.2,253.2 L1188.3,251.0 L1189.4,248.8 L1190.6,246.6 L1191.8,244.4 L1192.9,242.2 L1194.1,240.0 L1195.4,237.8 L1196.6,235.6 L1197.9,233.5 L1199.1,231.3 L1200.4,229.2 L1201.7,227.1 L1203.1,225.0 L1204.4,222.9 L1205.8,220.8 L1207.2,218.7 L1208.6,216.7 L1210.0,214.7 L1211.5,212.6 L1213.0,210.6 L1214.5,208.7 L1216.1,206.7 L1217.7,204.8 L1219.3,202.9 L1220.9,201.0 L1222.6,199.1 L1224.3,197.3 L1226.1,195.5 L1227.8,193.7 L1229.7,192.0 L1231.5,190.3 L1233.4,188.6 L1235.3,187.0 L1237.3,185.3 L1239.3,183.8 L1241.3,182.2 L1243.4,180.7 L1245.5,179.3 L1247.6,177.9 L1249.7,176.5 L1251.9,175.2 L1254.1,173.9 L1256.3,172.7 L1258.5,171.6 L1260.8,170.5 L1263.1,169.4 L1265.4,168.4 L1267.7,167.5 L1270.1,166.6 L1272.4,165.8 L1274.8,165.0 L1277.2,164.4 L1279.6,163.7 L1282.1,163.2 L1284.5,162.7 L1286.9,162.3 L1289.4,162.0 L1291.9,161.7 L1294.3,161.5 L1296.8,161.4 L1299.3,161.3 L1301.8,161.3 L1304.3,161.3 L1306.8,161.4 L1309.3,161.5 L1311.8,161.7 L1314.3,162.0 L1316.9,162.3 L1319.4,162.6 L1321.9,163.0 L1324.4,163.4 L1326.9,163.8 L1329.4,164.3 L1331.9,164.9 L1334.4,165.4 L1336.9,166.0 L1339.4,166.6 L1341.8,167.2 L1344.3,167.9 L1346.7,168.6 L1349.2,169.3 L1351.6,170.0 L1354.0,170.7 L1356.4,171.5 L1358.8,172.2 L1361.2,173.0 L1363.6,173.8 L1366.0,174.6 L1368.3,175.4 L1370.7,176.2 L1373.0,177.0 L1375.3,177.8 L1377.7,178.7 L1380.0,179.5 L1382.3,180.4 L1384.6,181.3 L1386.9,182.2 L1389.2,183.0 L1391.5,183.9 L1393.8,184.8 L1396.1,185.7 L1398.4,186.7 L1400.7,187.6 L1403.0,188.5 L1405.3,189.4 L1407.6,190.4 L1409.9,191.3 L1412.1,192.2 L1414.4,193.2 L1416.7,194.1 L1419.0,195.0 L1421.3,196.0 L1423.6,196.9 L1425.9,197.9 L1428.2,198.8 L1430.5,199.8 L1432.8,200.7 L1435.1,201.6 L1437.4,202.6 L1439.7,203.5 L1442.0,204.5 L1444.3,205.5 L1446.6,206.4 L1448.9,207.4 L1451.2,208.3 L1453.6,209.3 L1455.9,210.2 L1458.2,211.2 L1460.5,212.1 L1462.8,213.1 L1465.1,214.0 L1467.4,215.0 L1469.8,215.9 L1472.1,216.9 L1474.4,217.8 L1476.7,218.8 L1479.1,219.7 L1481.4,220.7 L1483.7,221.6 L1486.0,222.6 L1488.4,223.5 L1490.7,224.5 L1493.0,225.4 L1495.4,226.4 L1497.7,227.3 L1500.0,228.2 L1502.4,229.2 L1504.7,230.1 L1507.0,231.1 L1509.4,232.0 L1511.7,232.9 L1514.1,233.8 L1516.4,234.8 L1518.7,235.7 L1521.1,236.6 L1523.4,237.5 L1525.8,238.4 L1528.1,239.4 L1530.5,240.3 L1532.8,241.2 L1535.2,242.1 L1537.5,243.0 L1539.9,243.9 L1542.2,244.8 L1544.6,245.7 L1546.9,246.5 L1549.3,247.4 L1551.7,248.3 L1554.0,249.2 L1556.4,250.1 L1558.7,250.9 L1561.1,251.8 L1563.5,252.7 L1565.8,253.5 L1568.2,254.4 L1570.5,255.2 L1572.9,256.1 L1575.3,256.9 L1577.6,257.7 L1580.0,258.6 L1582.4,259.4 L1584.8,260.2 L1587.1,261.0 L1589.5,261.8 L1591.9,262.6 L1594.2,263.4 L1596.6,264.2 L1599.0,265.0 L1601.4,265.8 L1603.7,266.6 L1606.1,267.3 L1608.5,268.1 L1610.9,268.8 L1613.2,269.6 L1615.6,270.3 L1618.0,271.1 L1620.4,271.8 L1622.8,272.5 L1625.1,273.3 L1627.5,274.0 L1629.9,274.7 L1632.3,275.4" fill="none" stroke="#720092" stroke-width="12.5" stroke-linecap="round" stroke-linejoin="round"/>
<line x1="406.8" y1="331.9" x2="406.8" y2="1215.4" stroke="#ff0000" stroke-width="8" stroke-dasharray="39.5 37.2"/>
<line x1="480.3" y1="592.4" x2="480.3" y2="1222.0" stroke="#ff0000" stroke-width="8" stroke-dasharray="39.5 37.2"/>
<line x1="538.6" y1="584.3" x2="538.6" y2="1213.4" stroke="#ff0000" stroke-width="8" stroke-dasharray="39.5 37.2"/>
<line x1="981.6" y1="169.8" x2="981.6" y2="1207.5" stroke="#0000ff" stroke-width="8" stroke-dasharray="39.5 37.2"/>
<line x1="1123.3" y1="166.7" x2="1123.3" y2="1202.3" stroke="#ff0080" stroke-width="8" stroke-dasharray="39.5 37.2"/>
<line x1="1283.8" y1="162.1" x2="1283.8" y2="1197.4" stroke="#0a0a7c" stroke-width="8" stroke-dasharray="39.5 37.2"/>
</g>
<text x="192.5" y="1237.6" font-size="54.5" text-anchor="end">0</text><text x="192.5" y="1089.3" font-size="54.5" text-anchor="end">2</text><text x="192.5" y="941.0" font-size="54.5" text-anchor="end">4</text><text x="192.5" y="792.7" font-size="54.5" text-anchor="end">6</text><text x="192.5" y="644.4" font-size="54.5" text-anchor="end">8</text><text x="192.5" y="496.1" font-size="54.5" text-anchor="end">10</text><text x="192.5" y="347.8" font-size="54.5" text-anchor="end">12</text><text x="192.5" y="199.5" font-size="54.5" text-anchor="end">14</text><text x="192.5" y="51.2" font-size="54.5" text-anchor="end">16</text><text x="366.1" y="1297" font-size="54.5" text-anchor="middle">200</text><text x="647.7" y="1297" font-size="54.5" text-anchor="middle">400</text><text x="929.2" y="1297" font-size="54.5" text-anchor="middle">600</text><text x="1210.8" y="1297" font-size="54.5" text-anchor="middle">800</text><text x="1492.4" y="1297" font-size="54.5" text-anchor="middle">1000</text><text x="1774.0" y="1297" font-size="54.5" text-anchor="middle">1200</text>
<line x1="474.5" y1="92.1" x2="513.8" y2="92.1" stroke="#ff0000" stroke-width="12.3" stroke-linecap="round"/><text x="541.5" y="107.8" font-size="53.5">PVNiMC0</text><line x1="474.5" y1="158.8" x2="513.8" y2="158.8" stroke="#0000ff" stroke-width="12.3" stroke-linecap="round"/><text x="541.5" y="174.4" font-size="53.5">PVNiMC1</text><line x1="474.5" y1="225.5" x2="513.8" y2="225.5" stroke="#ff0080" stroke-width="12.3" stroke-linecap="round"/><text x="541.5" y="241.0" font-size="53.5">PVNiMC2</text><line x1="474.5" y1="292.2" x2="513.8" y2="292.2" stroke="#720092" stroke-width="12.3" stroke-linecap="round"/><text x="541.5" y="307.6" font-size="53.5">PVNiMC3</text>
<text x="254.8" y="237.3" font-size="53.5" fill="#ff0000">229 nm</text><text x="444.9" y="484.1" font-size="53.5" fill="#ff0000">277 nm</text><text x="565.4" y="600.8" font-size="53.5" fill="#ff0000">325 nm</text><text x="870" y="137.3" font-size="53.5" fill="#0000ff">636 nm</text><text x="1047.3" y="138.1" font-size="53.5" fill="#ff0080">737 nm</text><text x="1251" y="138.4" font-size="53.5" fill="#0a0a7c">852.66 nm</text><text x="1627" y="145.3" font-size="66" letter-spacing="2">(c)</text><text x="861.8" y="1381.5" font-size="54">Wavelength (<tspan font-style="italic">nm</tspan>)</text>
<text transform="translate(52.5,751.7) rotate(-90)" style="font-size:70.0px;font-weight:normal">&#966;</text><text transform="translate(73.0,711.0) rotate(-90)" style="font-size:39.0px;font-weight:bold">Film</text><text transform="translate(51.5,565.0) rotate(-90)" style="font-size:54.0px;font-weight:normal">10</text><text transform="translate(29.5,511.3) rotate(-90)" style="font-size:38.0px;font-weight:normal">5</text><text transform="translate(51.3,477.7) rotate(-90)" style="font-size:52.0px;font-weight:bold">(</text><text transform="translate(51.5,461.5) rotate(-90)" style="font-size:58.0px;font-weight:normal">&#937;</text><text transform="translate(51.3,419.5) rotate(-90)" style="font-size:54.0px;font-weight:bold">/sq)</text>
</svg></body></html>
